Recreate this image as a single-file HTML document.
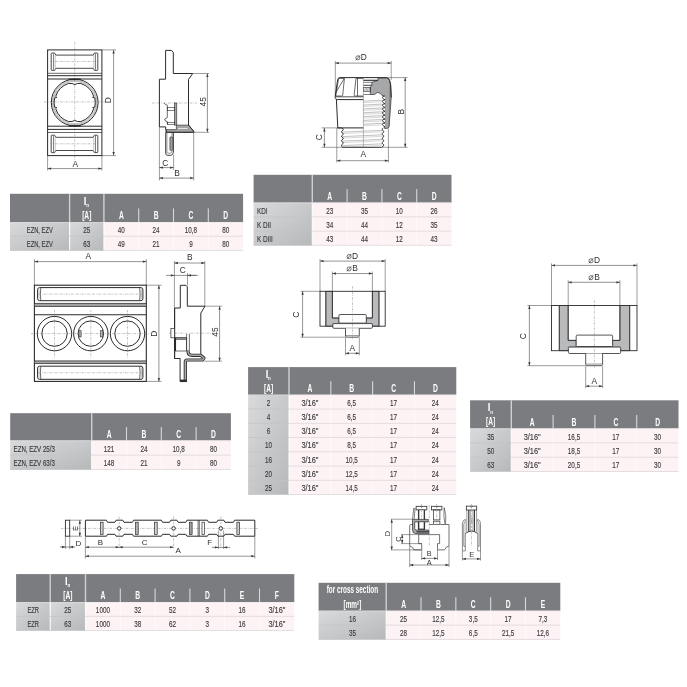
<!DOCTYPE html>
<html><head><meta charset="utf-8"><title>dims</title>
<style>html,body{margin:0;padding:0;background:#fff}svg{display:block;font-family:"Liberation Sans",sans-serif;will-change:transform}</style>
</head><body>
<svg width="687" height="687" viewBox="0 0 687 687">
<defs>
<linearGradient id="gg" x1="0" x2="1" y1="0" y2="1"><stop offset="0" stop-color="#d9dadc"/><stop offset="1" stop-color="#b7b8ba"/></linearGradient>
</defs>
<rect width="687" height="687" fill="#fff"/>

<rect x="10" y="193.8" width="233.10" height="28.20" fill="#7b7c7f"/>
<rect x="103.9" y="222.0" width="139.20" height="28.40" fill="#fdf3f5"/>
<rect x="10" y="222.0" width="59.60" height="28.40" fill="url(#gg)"/>
<rect x="69.6" y="222.0" width="34.30" height="28.40" fill="url(#gg)"/>
<rect x="68.90" y="193.8" width="1.4" height="28.20" fill="#cfd0d2"/>
<rect x="69.00" y="222.0" width="1.2" height="28.40" fill="#fff" opacity="0.85"/>
<rect x="103.20" y="193.8" width="1.4" height="28.20" fill="#cfd0d2"/>
<rect x="103.30" y="222.0" width="1.2" height="28.40" fill="#fff" opacity="0.85"/>
<rect x="138.15" y="208.40" width="1.1" height="13.6" fill="#d6d7d9"/>
<rect x="138.30" y="222.00" width="0.8" height="28.40" fill="#fff" opacity="0.7"/>
<rect x="172.95" y="208.40" width="1.1" height="13.6" fill="#d6d7d9"/>
<rect x="173.10" y="222.00" width="0.8" height="28.40" fill="#fff" opacity="0.7"/>
<rect x="207.75" y="208.40" width="1.1" height="13.6" fill="#d6d7d9"/>
<rect x="207.90" y="222.00" width="0.8" height="28.40" fill="#fff" opacity="0.7"/>
<rect x="10" y="222.00" width="93.90" height="0.6" fill="#dcdddf"/>
<rect x="103.9" y="222.00" width="139.20" height="0.6" fill="#efe9eb"/>
<rect x="10" y="235.80" width="93.90" height="0.8" fill="#c3c4c6" opacity="0.9"/>
<rect x="103.9" y="235.75" width="139.20" height="0.9" fill="#e0dbde"/>
<rect x="10" y="250.00" width="93.90" height="0.8" fill="#c3c4c6" opacity="0.9"/>
<rect x="103.9" y="249.95" width="139.20" height="0.9" fill="#e0dbde"/>
<text transform="translate(85.15,204.80) scale(0.95,1)" text-anchor="middle" fill="#fff" font-size="10" font-weight="bold" >I</text>
<text transform="translate(87.65,207.20) scale(0.8,1)" text-anchor="middle" fill="#fff" font-size="5.6" font-weight="bold" >n</text>
<text transform="translate(86.75,218.80) scale(0.66,1)" text-anchor="middle" fill="#fff" font-size="10" font-weight="bold" >[A]</text>
<text transform="translate(121.30,219.00) scale(0.66,1)" text-anchor="middle" fill="#fff" font-size="10.2" font-weight="bold" >A</text>
<text transform="translate(156.10,219.00) scale(0.66,1)" text-anchor="middle" fill="#fff" font-size="10.2" font-weight="bold" >B</text>
<text transform="translate(190.90,219.00) scale(0.66,1)" text-anchor="middle" fill="#fff" font-size="10.2" font-weight="bold" >C</text>
<text transform="translate(225.70,219.00) scale(0.66,1)" text-anchor="middle" fill="#fff" font-size="10.2" font-weight="bold" >D</text>
<text transform="translate(39.80,232.80) scale(0.6,1)" text-anchor="middle" fill="#3b3b3d" font-size="9.6" stroke="#3b3b3d" stroke-width="0.16" >EZN, EZV</text>
<text transform="translate(86.75,232.80) scale(0.66,1)" text-anchor="middle" fill="#3b3b3d" font-size="9.6" stroke="#3b3b3d" stroke-width="0.16" >25</text>
<text transform="translate(121.30,232.80) scale(0.66,1)" text-anchor="middle" fill="#3b3b3d" font-size="9.6" stroke="#3b3b3d" stroke-width="0.16" >40</text>
<text transform="translate(156.10,232.80) scale(0.66,1)" text-anchor="middle" fill="#3b3b3d" font-size="9.6" stroke="#3b3b3d" stroke-width="0.16" >24</text>
<text transform="translate(190.90,232.80) scale(0.66,1)" text-anchor="middle" fill="#3b3b3d" font-size="9.6" stroke="#3b3b3d" stroke-width="0.16" >10,8</text>
<text transform="translate(225.70,232.80) scale(0.66,1)" text-anchor="middle" fill="#3b3b3d" font-size="9.6" stroke="#3b3b3d" stroke-width="0.16" >80</text>
<text transform="translate(39.80,247.00) scale(0.6,1)" text-anchor="middle" fill="#3b3b3d" font-size="9.6" stroke="#3b3b3d" stroke-width="0.16" >EZN, EZV</text>
<text transform="translate(86.75,247.00) scale(0.66,1)" text-anchor="middle" fill="#3b3b3d" font-size="9.6" stroke="#3b3b3d" stroke-width="0.16" >63</text>
<text transform="translate(121.30,247.00) scale(0.66,1)" text-anchor="middle" fill="#3b3b3d" font-size="9.6" stroke="#3b3b3d" stroke-width="0.16" >49</text>
<text transform="translate(156.10,247.00) scale(0.66,1)" text-anchor="middle" fill="#3b3b3d" font-size="9.6" stroke="#3b3b3d" stroke-width="0.16" >21</text>
<text transform="translate(190.90,247.00) scale(0.66,1)" text-anchor="middle" fill="#3b3b3d" font-size="9.6" stroke="#3b3b3d" stroke-width="0.16" >9</text>
<text transform="translate(225.70,247.00) scale(0.66,1)" text-anchor="middle" fill="#3b3b3d" font-size="9.6" stroke="#3b3b3d" stroke-width="0.16" >80</text>
<rect x="253.6" y="174.8" width="197.90" height="27.90" fill="#7b7c7f"/>
<rect x="312.3" y="202.7" width="139.20" height="42.60" fill="#fdf3f5"/>
<rect x="253.6" y="202.7" width="58.70" height="42.60" fill="url(#gg)"/>
<rect x="311.60" y="174.8" width="1.4" height="27.90" fill="#cfd0d2"/>
<rect x="311.70" y="202.7" width="1.2" height="42.60" fill="#fff" opacity="0.85"/>
<rect x="346.55" y="189.10" width="1.1" height="13.6" fill="#d6d7d9"/>
<rect x="346.70" y="202.70" width="0.8" height="42.60" fill="#fff" opacity="0.7"/>
<rect x="381.35" y="189.10" width="1.1" height="13.6" fill="#d6d7d9"/>
<rect x="381.50" y="202.70" width="0.8" height="42.60" fill="#fff" opacity="0.7"/>
<rect x="416.15" y="189.10" width="1.1" height="13.6" fill="#d6d7d9"/>
<rect x="416.30" y="202.70" width="0.8" height="42.60" fill="#fff" opacity="0.7"/>
<rect x="253.6" y="202.70" width="58.70" height="0.6" fill="#dcdddf"/>
<rect x="312.3" y="202.70" width="139.20" height="0.6" fill="#efe9eb"/>
<rect x="253.6" y="216.50" width="58.70" height="0.8" fill="#c3c4c6" opacity="0.9"/>
<rect x="312.3" y="216.45" width="139.20" height="0.9" fill="#e0dbde"/>
<rect x="253.6" y="230.70" width="58.70" height="0.8" fill="#c3c4c6" opacity="0.9"/>
<rect x="312.3" y="230.65" width="139.20" height="0.9" fill="#e0dbde"/>
<rect x="253.6" y="244.90" width="58.70" height="0.8" fill="#c3c4c6" opacity="0.9"/>
<rect x="312.3" y="244.85" width="139.20" height="0.9" fill="#e0dbde"/>
<text transform="translate(329.70,199.70) scale(0.66,1)" text-anchor="middle" fill="#fff" font-size="10.2" font-weight="bold" >A</text>
<text transform="translate(364.50,199.70) scale(0.66,1)" text-anchor="middle" fill="#fff" font-size="10.2" font-weight="bold" >B</text>
<text transform="translate(399.30,199.70) scale(0.66,1)" text-anchor="middle" fill="#fff" font-size="10.2" font-weight="bold" >C</text>
<text transform="translate(434.10,199.70) scale(0.66,1)" text-anchor="middle" fill="#fff" font-size="10.2" font-weight="bold" >D</text>
<text transform="translate(257.00,213.50) scale(0.66,1)" text-anchor="start" fill="#3b3b3d" font-size="9.6" stroke="#3b3b3d" stroke-width="0.16" >KDI</text>
<text transform="translate(329.70,213.50) scale(0.66,1)" text-anchor="middle" fill="#3b3b3d" font-size="9.6" stroke="#3b3b3d" stroke-width="0.16" >23</text>
<text transform="translate(364.50,213.50) scale(0.66,1)" text-anchor="middle" fill="#3b3b3d" font-size="9.6" stroke="#3b3b3d" stroke-width="0.16" >35</text>
<text transform="translate(399.30,213.50) scale(0.66,1)" text-anchor="middle" fill="#3b3b3d" font-size="9.6" stroke="#3b3b3d" stroke-width="0.16" >10</text>
<text transform="translate(434.10,213.50) scale(0.66,1)" text-anchor="middle" fill="#3b3b3d" font-size="9.6" stroke="#3b3b3d" stroke-width="0.16" >26</text>
<text transform="translate(257.00,227.70) scale(0.66,1)" text-anchor="start" fill="#3b3b3d" font-size="9.6" stroke="#3b3b3d" stroke-width="0.16" >K DII</text>
<text transform="translate(329.70,227.70) scale(0.66,1)" text-anchor="middle" fill="#3b3b3d" font-size="9.6" stroke="#3b3b3d" stroke-width="0.16" >34</text>
<text transform="translate(364.50,227.70) scale(0.66,1)" text-anchor="middle" fill="#3b3b3d" font-size="9.6" stroke="#3b3b3d" stroke-width="0.16" >44</text>
<text transform="translate(399.30,227.70) scale(0.66,1)" text-anchor="middle" fill="#3b3b3d" font-size="9.6" stroke="#3b3b3d" stroke-width="0.16" >12</text>
<text transform="translate(434.10,227.70) scale(0.66,1)" text-anchor="middle" fill="#3b3b3d" font-size="9.6" stroke="#3b3b3d" stroke-width="0.16" >35</text>
<text transform="translate(257.00,241.90) scale(0.66,1)" text-anchor="start" fill="#3b3b3d" font-size="9.6" stroke="#3b3b3d" stroke-width="0.16" >K DIII</text>
<text transform="translate(329.70,241.90) scale(0.66,1)" text-anchor="middle" fill="#3b3b3d" font-size="9.6" stroke="#3b3b3d" stroke-width="0.16" >43</text>
<text transform="translate(364.50,241.90) scale(0.66,1)" text-anchor="middle" fill="#3b3b3d" font-size="9.6" stroke="#3b3b3d" stroke-width="0.16" >44</text>
<text transform="translate(399.30,241.90) scale(0.66,1)" text-anchor="middle" fill="#3b3b3d" font-size="9.6" stroke="#3b3b3d" stroke-width="0.16" >12</text>
<text transform="translate(434.10,241.90) scale(0.66,1)" text-anchor="middle" fill="#3b3b3d" font-size="9.6" stroke="#3b3b3d" stroke-width="0.16" >43</text>
<rect x="10.2" y="413.2" width="220.70" height="27.40" fill="#7b7c7f"/>
<rect x="91.7" y="440.6" width="139.20" height="29.00" fill="#fdf3f5"/>
<rect x="10.2" y="440.6" width="81.50" height="29.00" fill="url(#gg)"/>
<rect x="91.00" y="413.2" width="1.4" height="27.40" fill="#cfd0d2"/>
<rect x="91.10" y="440.6" width="1.2" height="29.00" fill="#fff" opacity="0.85"/>
<rect x="125.95" y="427.00" width="1.1" height="13.6" fill="#d6d7d9"/>
<rect x="126.10" y="440.60" width="0.8" height="29.00" fill="#fff" opacity="0.7"/>
<rect x="160.75" y="427.00" width="1.1" height="13.6" fill="#d6d7d9"/>
<rect x="160.90" y="440.60" width="0.8" height="29.00" fill="#fff" opacity="0.7"/>
<rect x="195.55" y="427.00" width="1.1" height="13.6" fill="#d6d7d9"/>
<rect x="195.70" y="440.60" width="0.8" height="29.00" fill="#fff" opacity="0.7"/>
<rect x="10.2" y="440.60" width="81.50" height="0.6" fill="#dcdddf"/>
<rect x="91.7" y="440.60" width="139.20" height="0.6" fill="#efe9eb"/>
<rect x="10.2" y="454.70" width="81.50" height="0.8" fill="#c3c4c6" opacity="0.9"/>
<rect x="91.7" y="454.65" width="139.20" height="0.9" fill="#e0dbde"/>
<rect x="10.2" y="469.20" width="81.50" height="0.8" fill="#c3c4c6" opacity="0.9"/>
<rect x="91.7" y="469.15" width="139.20" height="0.9" fill="#e0dbde"/>
<text transform="translate(109.10,437.60) scale(0.66,1)" text-anchor="middle" fill="#fff" font-size="10.2" font-weight="bold" >A</text>
<text transform="translate(143.90,437.60) scale(0.66,1)" text-anchor="middle" fill="#fff" font-size="10.2" font-weight="bold" >B</text>
<text transform="translate(178.70,437.60) scale(0.66,1)" text-anchor="middle" fill="#fff" font-size="10.2" font-weight="bold" >C</text>
<text transform="translate(213.50,437.60) scale(0.66,1)" text-anchor="middle" fill="#fff" font-size="10.2" font-weight="bold" >D</text>
<text transform="translate(13.60,451.70) scale(0.64,1)" text-anchor="start" fill="#3b3b3d" font-size="9.6" stroke="#3b3b3d" stroke-width="0.16" >EZN, EZV 25/3</text>
<text transform="translate(109.10,451.70) scale(0.66,1)" text-anchor="middle" fill="#3b3b3d" font-size="9.6" stroke="#3b3b3d" stroke-width="0.16" >121</text>
<text transform="translate(143.90,451.70) scale(0.66,1)" text-anchor="middle" fill="#3b3b3d" font-size="9.6" stroke="#3b3b3d" stroke-width="0.16" >24</text>
<text transform="translate(178.70,451.70) scale(0.66,1)" text-anchor="middle" fill="#3b3b3d" font-size="9.6" stroke="#3b3b3d" stroke-width="0.16" >10,8</text>
<text transform="translate(213.50,451.70) scale(0.66,1)" text-anchor="middle" fill="#3b3b3d" font-size="9.6" stroke="#3b3b3d" stroke-width="0.16" >80</text>
<text transform="translate(13.60,466.20) scale(0.64,1)" text-anchor="start" fill="#3b3b3d" font-size="9.6" stroke="#3b3b3d" stroke-width="0.16" >EZN, EZV 63/3</text>
<text transform="translate(109.10,466.20) scale(0.66,1)" text-anchor="middle" fill="#3b3b3d" font-size="9.6" stroke="#3b3b3d" stroke-width="0.16" >148</text>
<text transform="translate(143.90,466.20) scale(0.66,1)" text-anchor="middle" fill="#3b3b3d" font-size="9.6" stroke="#3b3b3d" stroke-width="0.16" >21</text>
<text transform="translate(178.70,466.20) scale(0.66,1)" text-anchor="middle" fill="#3b3b3d" font-size="9.6" stroke="#3b3b3d" stroke-width="0.16" >9</text>
<text transform="translate(213.50,466.20) scale(0.66,1)" text-anchor="middle" fill="#3b3b3d" font-size="9.6" stroke="#3b3b3d" stroke-width="0.16" >80</text>
<rect x="248.1" y="367.1" width="208.18" height="27.70" fill="#7b7c7f"/>
<rect x="289.0" y="394.8" width="167.28" height="99.75" fill="#fdf3f5"/>
<rect x="248.1" y="394.8" width="40.90" height="99.75" fill="url(#gg)"/>
<rect x="288.30" y="367.1" width="1.4" height="27.70" fill="#cfd0d2"/>
<rect x="288.40" y="394.8" width="1.2" height="99.75" fill="#fff" opacity="0.85"/>
<rect x="330.27" y="381.20" width="1.1" height="13.6" fill="#d6d7d9"/>
<rect x="330.42" y="394.80" width="0.8" height="99.75" fill="#fff" opacity="0.7"/>
<rect x="372.09" y="381.20" width="1.1" height="13.6" fill="#d6d7d9"/>
<rect x="372.24" y="394.80" width="0.8" height="99.75" fill="#fff" opacity="0.7"/>
<rect x="413.91" y="381.20" width="1.1" height="13.6" fill="#d6d7d9"/>
<rect x="414.06" y="394.80" width="0.8" height="99.75" fill="#fff" opacity="0.7"/>
<rect x="248.1" y="394.80" width="40.90" height="0.6" fill="#dcdddf"/>
<rect x="289.0" y="394.80" width="167.28" height="0.6" fill="#efe9eb"/>
<rect x="248.1" y="408.65" width="40.90" height="0.8" fill="#c3c4c6" opacity="0.9"/>
<rect x="289.0" y="408.60" width="167.28" height="0.9" fill="#e0dbde"/>
<rect x="248.1" y="422.90" width="40.90" height="0.8" fill="#c3c4c6" opacity="0.9"/>
<rect x="289.0" y="422.85" width="167.28" height="0.9" fill="#e0dbde"/>
<rect x="248.1" y="437.15" width="40.90" height="0.8" fill="#c3c4c6" opacity="0.9"/>
<rect x="289.0" y="437.10" width="167.28" height="0.9" fill="#e0dbde"/>
<rect x="248.1" y="451.40" width="40.90" height="0.8" fill="#c3c4c6" opacity="0.9"/>
<rect x="289.0" y="451.35" width="167.28" height="0.9" fill="#e0dbde"/>
<rect x="248.1" y="465.65" width="40.90" height="0.8" fill="#c3c4c6" opacity="0.9"/>
<rect x="289.0" y="465.60" width="167.28" height="0.9" fill="#e0dbde"/>
<rect x="248.1" y="479.90" width="40.90" height="0.8" fill="#c3c4c6" opacity="0.9"/>
<rect x="289.0" y="479.85" width="167.28" height="0.9" fill="#e0dbde"/>
<rect x="248.1" y="494.15" width="40.90" height="0.8" fill="#c3c4c6" opacity="0.9"/>
<rect x="289.0" y="494.10" width="167.28" height="0.9" fill="#e0dbde"/>
<text transform="translate(266.95,377.60) scale(0.95,1)" text-anchor="middle" fill="#fff" font-size="10" font-weight="bold" >I</text>
<text transform="translate(269.45,380.00) scale(0.8,1)" text-anchor="middle" fill="#fff" font-size="5.6" font-weight="bold" >n</text>
<text transform="translate(268.55,391.60) scale(0.66,1)" text-anchor="middle" fill="#fff" font-size="10" font-weight="bold" >[A]</text>
<text transform="translate(309.91,391.80) scale(0.66,1)" text-anchor="middle" fill="#fff" font-size="10.2" font-weight="bold" >A</text>
<text transform="translate(351.73,391.80) scale(0.66,1)" text-anchor="middle" fill="#fff" font-size="10.2" font-weight="bold" >B</text>
<text transform="translate(393.55,391.80) scale(0.66,1)" text-anchor="middle" fill="#fff" font-size="10.2" font-weight="bold" >C</text>
<text transform="translate(435.37,391.80) scale(0.66,1)" text-anchor="middle" fill="#fff" font-size="10.2" font-weight="bold" >D</text>
<text transform="translate(268.55,405.65) scale(0.66,1)" text-anchor="middle" fill="#3b3b3d" font-size="9.6" stroke="#3b3b3d" stroke-width="0.16" >2</text>
<text transform="translate(309.91,405.65) scale(0.77,1)" text-anchor="middle" fill="#3b3b3d" font-size="9.6" stroke="#3b3b3d" stroke-width="0.16" >3/16"</text>
<text transform="translate(351.73,405.65) scale(0.66,1)" text-anchor="middle" fill="#3b3b3d" font-size="9.6" stroke="#3b3b3d" stroke-width="0.16" >6,5</text>
<text transform="translate(393.55,405.65) scale(0.66,1)" text-anchor="middle" fill="#3b3b3d" font-size="9.6" stroke="#3b3b3d" stroke-width="0.16" >17</text>
<text transform="translate(435.37,405.65) scale(0.66,1)" text-anchor="middle" fill="#3b3b3d" font-size="9.6" stroke="#3b3b3d" stroke-width="0.16" >24</text>
<text transform="translate(268.55,419.90) scale(0.66,1)" text-anchor="middle" fill="#3b3b3d" font-size="9.6" stroke="#3b3b3d" stroke-width="0.16" >4</text>
<text transform="translate(309.91,419.90) scale(0.77,1)" text-anchor="middle" fill="#3b3b3d" font-size="9.6" stroke="#3b3b3d" stroke-width="0.16" >3/16"</text>
<text transform="translate(351.73,419.90) scale(0.66,1)" text-anchor="middle" fill="#3b3b3d" font-size="9.6" stroke="#3b3b3d" stroke-width="0.16" >6,5</text>
<text transform="translate(393.55,419.90) scale(0.66,1)" text-anchor="middle" fill="#3b3b3d" font-size="9.6" stroke="#3b3b3d" stroke-width="0.16" >17</text>
<text transform="translate(435.37,419.90) scale(0.66,1)" text-anchor="middle" fill="#3b3b3d" font-size="9.6" stroke="#3b3b3d" stroke-width="0.16" >24</text>
<text transform="translate(268.55,434.15) scale(0.66,1)" text-anchor="middle" fill="#3b3b3d" font-size="9.6" stroke="#3b3b3d" stroke-width="0.16" >6</text>
<text transform="translate(309.91,434.15) scale(0.77,1)" text-anchor="middle" fill="#3b3b3d" font-size="9.6" stroke="#3b3b3d" stroke-width="0.16" >3/16"</text>
<text transform="translate(351.73,434.15) scale(0.66,1)" text-anchor="middle" fill="#3b3b3d" font-size="9.6" stroke="#3b3b3d" stroke-width="0.16" >6,5</text>
<text transform="translate(393.55,434.15) scale(0.66,1)" text-anchor="middle" fill="#3b3b3d" font-size="9.6" stroke="#3b3b3d" stroke-width="0.16" >17</text>
<text transform="translate(435.37,434.15) scale(0.66,1)" text-anchor="middle" fill="#3b3b3d" font-size="9.6" stroke="#3b3b3d" stroke-width="0.16" >24</text>
<text transform="translate(268.55,448.40) scale(0.66,1)" text-anchor="middle" fill="#3b3b3d" font-size="9.6" stroke="#3b3b3d" stroke-width="0.16" >10</text>
<text transform="translate(309.91,448.40) scale(0.77,1)" text-anchor="middle" fill="#3b3b3d" font-size="9.6" stroke="#3b3b3d" stroke-width="0.16" >3/16"</text>
<text transform="translate(351.73,448.40) scale(0.66,1)" text-anchor="middle" fill="#3b3b3d" font-size="9.6" stroke="#3b3b3d" stroke-width="0.16" >8,5</text>
<text transform="translate(393.55,448.40) scale(0.66,1)" text-anchor="middle" fill="#3b3b3d" font-size="9.6" stroke="#3b3b3d" stroke-width="0.16" >17</text>
<text transform="translate(435.37,448.40) scale(0.66,1)" text-anchor="middle" fill="#3b3b3d" font-size="9.6" stroke="#3b3b3d" stroke-width="0.16" >24</text>
<text transform="translate(268.55,462.65) scale(0.66,1)" text-anchor="middle" fill="#3b3b3d" font-size="9.6" stroke="#3b3b3d" stroke-width="0.16" >16</text>
<text transform="translate(309.91,462.65) scale(0.77,1)" text-anchor="middle" fill="#3b3b3d" font-size="9.6" stroke="#3b3b3d" stroke-width="0.16" >3/16"</text>
<text transform="translate(351.73,462.65) scale(0.66,1)" text-anchor="middle" fill="#3b3b3d" font-size="9.6" stroke="#3b3b3d" stroke-width="0.16" >10,5</text>
<text transform="translate(393.55,462.65) scale(0.66,1)" text-anchor="middle" fill="#3b3b3d" font-size="9.6" stroke="#3b3b3d" stroke-width="0.16" >17</text>
<text transform="translate(435.37,462.65) scale(0.66,1)" text-anchor="middle" fill="#3b3b3d" font-size="9.6" stroke="#3b3b3d" stroke-width="0.16" >24</text>
<text transform="translate(268.55,476.90) scale(0.66,1)" text-anchor="middle" fill="#3b3b3d" font-size="9.6" stroke="#3b3b3d" stroke-width="0.16" >20</text>
<text transform="translate(309.91,476.90) scale(0.77,1)" text-anchor="middle" fill="#3b3b3d" font-size="9.6" stroke="#3b3b3d" stroke-width="0.16" >3/16"</text>
<text transform="translate(351.73,476.90) scale(0.66,1)" text-anchor="middle" fill="#3b3b3d" font-size="9.6" stroke="#3b3b3d" stroke-width="0.16" >12,5</text>
<text transform="translate(393.55,476.90) scale(0.66,1)" text-anchor="middle" fill="#3b3b3d" font-size="9.6" stroke="#3b3b3d" stroke-width="0.16" >17</text>
<text transform="translate(435.37,476.90) scale(0.66,1)" text-anchor="middle" fill="#3b3b3d" font-size="9.6" stroke="#3b3b3d" stroke-width="0.16" >24</text>
<text transform="translate(268.55,491.15) scale(0.66,1)" text-anchor="middle" fill="#3b3b3d" font-size="9.6" stroke="#3b3b3d" stroke-width="0.16" >25</text>
<text transform="translate(309.91,491.15) scale(0.77,1)" text-anchor="middle" fill="#3b3b3d" font-size="9.6" stroke="#3b3b3d" stroke-width="0.16" >3/16"</text>
<text transform="translate(351.73,491.15) scale(0.66,1)" text-anchor="middle" fill="#3b3b3d" font-size="9.6" stroke="#3b3b3d" stroke-width="0.16" >14,5</text>
<text transform="translate(393.55,491.15) scale(0.66,1)" text-anchor="middle" fill="#3b3b3d" font-size="9.6" stroke="#3b3b3d" stroke-width="0.16" >17</text>
<text transform="translate(435.37,491.15) scale(0.66,1)" text-anchor="middle" fill="#3b3b3d" font-size="9.6" stroke="#3b3b3d" stroke-width="0.16" >24</text>
<rect x="470.1" y="400.3" width="208.40" height="28.30" fill="#7b7c7f"/>
<rect x="511.3" y="428.6" width="167.20" height="42.90" fill="#fdf3f5"/>
<rect x="470.1" y="428.6" width="41.20" height="42.90" fill="url(#gg)"/>
<rect x="510.60" y="400.3" width="1.4" height="28.30" fill="#cfd0d2"/>
<rect x="510.70" y="428.6" width="1.2" height="42.90" fill="#fff" opacity="0.85"/>
<rect x="552.55" y="415.00" width="1.1" height="13.6" fill="#d6d7d9"/>
<rect x="552.70" y="428.60" width="0.8" height="42.90" fill="#fff" opacity="0.7"/>
<rect x="594.35" y="415.00" width="1.1" height="13.6" fill="#d6d7d9"/>
<rect x="594.50" y="428.60" width="0.8" height="42.90" fill="#fff" opacity="0.7"/>
<rect x="636.15" y="415.00" width="1.1" height="13.6" fill="#d6d7d9"/>
<rect x="636.30" y="428.60" width="0.8" height="42.90" fill="#fff" opacity="0.7"/>
<rect x="470.1" y="428.60" width="41.20" height="0.6" fill="#dcdddf"/>
<rect x="511.3" y="428.60" width="167.20" height="0.6" fill="#efe9eb"/>
<rect x="470.1" y="442.50" width="41.20" height="0.8" fill="#c3c4c6" opacity="0.9"/>
<rect x="511.3" y="442.45" width="167.20" height="0.9" fill="#e0dbde"/>
<rect x="470.1" y="456.80" width="41.20" height="0.8" fill="#c3c4c6" opacity="0.9"/>
<rect x="511.3" y="456.75" width="167.20" height="0.9" fill="#e0dbde"/>
<rect x="470.1" y="471.10" width="41.20" height="0.8" fill="#c3c4c6" opacity="0.9"/>
<rect x="511.3" y="471.05" width="167.20" height="0.9" fill="#e0dbde"/>
<text transform="translate(489.10,411.40) scale(0.95,1)" text-anchor="middle" fill="#fff" font-size="10" font-weight="bold" >I</text>
<text transform="translate(491.60,413.80) scale(0.8,1)" text-anchor="middle" fill="#fff" font-size="5.6" font-weight="bold" >n</text>
<text transform="translate(490.70,425.40) scale(0.66,1)" text-anchor="middle" fill="#fff" font-size="10" font-weight="bold" >[A]</text>
<text transform="translate(532.20,425.60) scale(0.66,1)" text-anchor="middle" fill="#fff" font-size="10.2" font-weight="bold" >A</text>
<text transform="translate(574.00,425.60) scale(0.66,1)" text-anchor="middle" fill="#fff" font-size="10.2" font-weight="bold" >B</text>
<text transform="translate(615.80,425.60) scale(0.66,1)" text-anchor="middle" fill="#fff" font-size="10.2" font-weight="bold" >C</text>
<text transform="translate(657.60,425.60) scale(0.66,1)" text-anchor="middle" fill="#fff" font-size="10.2" font-weight="bold" >D</text>
<text transform="translate(490.70,439.50) scale(0.66,1)" text-anchor="middle" fill="#3b3b3d" font-size="9.6" stroke="#3b3b3d" stroke-width="0.16" >35</text>
<text transform="translate(532.20,439.50) scale(0.77,1)" text-anchor="middle" fill="#3b3b3d" font-size="9.6" stroke="#3b3b3d" stroke-width="0.16" >3/16"</text>
<text transform="translate(574.00,439.50) scale(0.66,1)" text-anchor="middle" fill="#3b3b3d" font-size="9.6" stroke="#3b3b3d" stroke-width="0.16" >16,5</text>
<text transform="translate(615.80,439.50) scale(0.66,1)" text-anchor="middle" fill="#3b3b3d" font-size="9.6" stroke="#3b3b3d" stroke-width="0.16" >17</text>
<text transform="translate(657.60,439.50) scale(0.66,1)" text-anchor="middle" fill="#3b3b3d" font-size="9.6" stroke="#3b3b3d" stroke-width="0.16" >30</text>
<text transform="translate(490.70,453.80) scale(0.66,1)" text-anchor="middle" fill="#3b3b3d" font-size="9.6" stroke="#3b3b3d" stroke-width="0.16" >50</text>
<text transform="translate(532.20,453.80) scale(0.77,1)" text-anchor="middle" fill="#3b3b3d" font-size="9.6" stroke="#3b3b3d" stroke-width="0.16" >3/16"</text>
<text transform="translate(574.00,453.80) scale(0.66,1)" text-anchor="middle" fill="#3b3b3d" font-size="9.6" stroke="#3b3b3d" stroke-width="0.16" >18,5</text>
<text transform="translate(615.80,453.80) scale(0.66,1)" text-anchor="middle" fill="#3b3b3d" font-size="9.6" stroke="#3b3b3d" stroke-width="0.16" >17</text>
<text transform="translate(657.60,453.80) scale(0.66,1)" text-anchor="middle" fill="#3b3b3d" font-size="9.6" stroke="#3b3b3d" stroke-width="0.16" >30</text>
<text transform="translate(490.70,468.10) scale(0.66,1)" text-anchor="middle" fill="#3b3b3d" font-size="9.6" stroke="#3b3b3d" stroke-width="0.16" >63</text>
<text transform="translate(532.20,468.10) scale(0.77,1)" text-anchor="middle" fill="#3b3b3d" font-size="9.6" stroke="#3b3b3d" stroke-width="0.16" >3/16"</text>
<text transform="translate(574.00,468.10) scale(0.66,1)" text-anchor="middle" fill="#3b3b3d" font-size="9.6" stroke="#3b3b3d" stroke-width="0.16" >20,5</text>
<text transform="translate(615.80,468.10) scale(0.66,1)" text-anchor="middle" fill="#3b3b3d" font-size="9.6" stroke="#3b3b3d" stroke-width="0.16" >17</text>
<text transform="translate(657.60,468.10) scale(0.66,1)" text-anchor="middle" fill="#3b3b3d" font-size="9.6" stroke="#3b3b3d" stroke-width="0.16" >30</text>
<rect x="16.1" y="574.1" width="278.20" height="28.00" fill="#7b7c7f"/>
<rect x="85.5" y="602.1" width="208.80" height="28.40" fill="#fdf3f5"/>
<rect x="16.1" y="602.1" width="34.10" height="28.40" fill="url(#gg)"/>
<rect x="50.2" y="602.1" width="35.30" height="28.40" fill="url(#gg)"/>
<rect x="49.50" y="574.1" width="1.4" height="28.00" fill="#cfd0d2"/>
<rect x="49.60" y="602.1" width="1.2" height="28.40" fill="#fff" opacity="0.85"/>
<rect x="84.80" y="574.1" width="1.4" height="28.00" fill="#cfd0d2"/>
<rect x="84.90" y="602.1" width="1.2" height="28.40" fill="#fff" opacity="0.85"/>
<rect x="119.75" y="588.50" width="1.1" height="13.6" fill="#d6d7d9"/>
<rect x="119.90" y="602.10" width="0.8" height="28.40" fill="#fff" opacity="0.7"/>
<rect x="154.55" y="588.50" width="1.1" height="13.6" fill="#d6d7d9"/>
<rect x="154.70" y="602.10" width="0.8" height="28.40" fill="#fff" opacity="0.7"/>
<rect x="189.35" y="588.50" width="1.1" height="13.6" fill="#d6d7d9"/>
<rect x="189.50" y="602.10" width="0.8" height="28.40" fill="#fff" opacity="0.7"/>
<rect x="224.15" y="588.50" width="1.1" height="13.6" fill="#d6d7d9"/>
<rect x="224.30" y="602.10" width="0.8" height="28.40" fill="#fff" opacity="0.7"/>
<rect x="258.95" y="588.50" width="1.1" height="13.6" fill="#d6d7d9"/>
<rect x="259.10" y="602.10" width="0.8" height="28.40" fill="#fff" opacity="0.7"/>
<rect x="16.1" y="602.10" width="69.40" height="0.6" fill="#dcdddf"/>
<rect x="85.5" y="602.10" width="208.80" height="0.6" fill="#efe9eb"/>
<rect x="16.1" y="615.90" width="69.40" height="0.8" fill="#c3c4c6" opacity="0.9"/>
<rect x="85.5" y="615.85" width="208.80" height="0.9" fill="#e0dbde"/>
<rect x="16.1" y="630.10" width="69.40" height="0.8" fill="#c3c4c6" opacity="0.9"/>
<rect x="85.5" y="630.05" width="208.80" height="0.9" fill="#e0dbde"/>
<text transform="translate(66.25,584.90) scale(0.95,1)" text-anchor="middle" fill="#fff" font-size="10" font-weight="bold" >I</text>
<text transform="translate(68.75,587.30) scale(0.8,1)" text-anchor="middle" fill="#fff" font-size="5.6" font-weight="bold" >n</text>
<text transform="translate(67.85,598.90) scale(0.66,1)" text-anchor="middle" fill="#fff" font-size="10" font-weight="bold" >[A]</text>
<text transform="translate(102.90,599.10) scale(0.66,1)" text-anchor="middle" fill="#fff" font-size="10.2" font-weight="bold" >A</text>
<text transform="translate(137.70,599.10) scale(0.66,1)" text-anchor="middle" fill="#fff" font-size="10.2" font-weight="bold" >B</text>
<text transform="translate(172.50,599.10) scale(0.66,1)" text-anchor="middle" fill="#fff" font-size="10.2" font-weight="bold" >C</text>
<text transform="translate(207.30,599.10) scale(0.66,1)" text-anchor="middle" fill="#fff" font-size="10.2" font-weight="bold" >D</text>
<text transform="translate(242.10,599.10) scale(0.66,1)" text-anchor="middle" fill="#fff" font-size="10.2" font-weight="bold" >E</text>
<text transform="translate(276.90,599.10) scale(0.66,1)" text-anchor="middle" fill="#fff" font-size="10.2" font-weight="bold" >F</text>
<text transform="translate(33.15,612.90) scale(0.6,1)" text-anchor="middle" fill="#3b3b3d" font-size="9.6" stroke="#3b3b3d" stroke-width="0.16" >EZR</text>
<text transform="translate(67.85,612.90) scale(0.66,1)" text-anchor="middle" fill="#3b3b3d" font-size="9.6" stroke="#3b3b3d" stroke-width="0.16" >25</text>
<text transform="translate(102.90,612.90) scale(0.66,1)" text-anchor="middle" fill="#3b3b3d" font-size="9.6" stroke="#3b3b3d" stroke-width="0.16" >1000</text>
<text transform="translate(137.70,612.90) scale(0.66,1)" text-anchor="middle" fill="#3b3b3d" font-size="9.6" stroke="#3b3b3d" stroke-width="0.16" >32</text>
<text transform="translate(172.50,612.90) scale(0.66,1)" text-anchor="middle" fill="#3b3b3d" font-size="9.6" stroke="#3b3b3d" stroke-width="0.16" >52</text>
<text transform="translate(207.30,612.90) scale(0.66,1)" text-anchor="middle" fill="#3b3b3d" font-size="9.6" stroke="#3b3b3d" stroke-width="0.16" >3</text>
<text transform="translate(242.10,612.90) scale(0.66,1)" text-anchor="middle" fill="#3b3b3d" font-size="9.6" stroke="#3b3b3d" stroke-width="0.16" >16</text>
<text transform="translate(276.90,612.90) scale(0.77,1)" text-anchor="middle" fill="#3b3b3d" font-size="9.6" stroke="#3b3b3d" stroke-width="0.16" >3/16"</text>
<text transform="translate(33.15,627.10) scale(0.6,1)" text-anchor="middle" fill="#3b3b3d" font-size="9.6" stroke="#3b3b3d" stroke-width="0.16" >EZR</text>
<text transform="translate(67.85,627.10) scale(0.66,1)" text-anchor="middle" fill="#3b3b3d" font-size="9.6" stroke="#3b3b3d" stroke-width="0.16" >63</text>
<text transform="translate(102.90,627.10) scale(0.66,1)" text-anchor="middle" fill="#3b3b3d" font-size="9.6" stroke="#3b3b3d" stroke-width="0.16" >1000</text>
<text transform="translate(137.70,627.10) scale(0.66,1)" text-anchor="middle" fill="#3b3b3d" font-size="9.6" stroke="#3b3b3d" stroke-width="0.16" >38</text>
<text transform="translate(172.50,627.10) scale(0.66,1)" text-anchor="middle" fill="#3b3b3d" font-size="9.6" stroke="#3b3b3d" stroke-width="0.16" >62</text>
<text transform="translate(207.30,627.10) scale(0.66,1)" text-anchor="middle" fill="#3b3b3d" font-size="9.6" stroke="#3b3b3d" stroke-width="0.16" >3</text>
<text transform="translate(242.10,627.10) scale(0.66,1)" text-anchor="middle" fill="#3b3b3d" font-size="9.6" stroke="#3b3b3d" stroke-width="0.16" >16</text>
<text transform="translate(276.90,627.10) scale(0.77,1)" text-anchor="middle" fill="#3b3b3d" font-size="9.6" stroke="#3b3b3d" stroke-width="0.16" >3/16"</text>
<rect x="318.6" y="582.8" width="241.70" height="28.00" fill="#7b7c7f"/>
<rect x="386.2" y="610.8" width="174.10" height="28.60" fill="#fdf3f5"/>
<rect x="318.6" y="610.8" width="67.60" height="28.60" fill="url(#gg)"/>
<rect x="385.50" y="582.8" width="1.4" height="28.00" fill="#cfd0d2"/>
<rect x="385.60" y="610.8" width="1.2" height="28.60" fill="#fff" opacity="0.85"/>
<rect x="420.47" y="597.20" width="1.1" height="13.6" fill="#d6d7d9"/>
<rect x="420.62" y="610.80" width="0.8" height="28.60" fill="#fff" opacity="0.7"/>
<rect x="455.29" y="597.20" width="1.1" height="13.6" fill="#d6d7d9"/>
<rect x="455.44" y="610.80" width="0.8" height="28.60" fill="#fff" opacity="0.7"/>
<rect x="490.11" y="597.20" width="1.1" height="13.6" fill="#d6d7d9"/>
<rect x="490.26" y="610.80" width="0.8" height="28.60" fill="#fff" opacity="0.7"/>
<rect x="524.93" y="597.20" width="1.1" height="13.6" fill="#d6d7d9"/>
<rect x="525.08" y="610.80" width="0.8" height="28.60" fill="#fff" opacity="0.7"/>
<rect x="318.6" y="610.80" width="67.60" height="0.6" fill="#dcdddf"/>
<rect x="386.2" y="610.80" width="174.10" height="0.6" fill="#efe9eb"/>
<rect x="318.6" y="624.70" width="67.60" height="0.8" fill="#c3c4c6" opacity="0.9"/>
<rect x="386.2" y="624.65" width="174.10" height="0.9" fill="#e0dbde"/>
<rect x="318.6" y="639.00" width="67.60" height="0.8" fill="#c3c4c6" opacity="0.9"/>
<rect x="386.2" y="638.95" width="174.10" height="0.9" fill="#e0dbde"/>
<text transform="translate(352.40,593.40) scale(0.64,1)" text-anchor="middle" fill="#fff" font-size="10" font-weight="bold" >for cross section</text>
<text transform="translate(352.40,607.60) scale(0.64,1)" text-anchor="middle" fill="#fff" font-size="10" font-weight="bold" >[mm²]</text>
<text transform="translate(403.61,607.80) scale(0.66,1)" text-anchor="middle" fill="#fff" font-size="10.2" font-weight="bold" >A</text>
<text transform="translate(438.43,607.80) scale(0.66,1)" text-anchor="middle" fill="#fff" font-size="10.2" font-weight="bold" >B</text>
<text transform="translate(473.25,607.80) scale(0.66,1)" text-anchor="middle" fill="#fff" font-size="10.2" font-weight="bold" >C</text>
<text transform="translate(508.07,607.80) scale(0.66,1)" text-anchor="middle" fill="#fff" font-size="10.2" font-weight="bold" >D</text>
<text transform="translate(542.89,607.80) scale(0.66,1)" text-anchor="middle" fill="#fff" font-size="10.2" font-weight="bold" >E</text>
<text transform="translate(352.40,621.70) scale(0.66,1)" text-anchor="middle" fill="#3b3b3d" font-size="9.6" stroke="#3b3b3d" stroke-width="0.16" >16</text>
<text transform="translate(403.61,621.70) scale(0.66,1)" text-anchor="middle" fill="#3b3b3d" font-size="9.6" stroke="#3b3b3d" stroke-width="0.16" >25</text>
<text transform="translate(438.43,621.70) scale(0.66,1)" text-anchor="middle" fill="#3b3b3d" font-size="9.6" stroke="#3b3b3d" stroke-width="0.16" >12,5</text>
<text transform="translate(473.25,621.70) scale(0.66,1)" text-anchor="middle" fill="#3b3b3d" font-size="9.6" stroke="#3b3b3d" stroke-width="0.16" >3,5</text>
<text transform="translate(508.07,621.70) scale(0.66,1)" text-anchor="middle" fill="#3b3b3d" font-size="9.6" stroke="#3b3b3d" stroke-width="0.16" >17</text>
<text transform="translate(542.89,621.70) scale(0.66,1)" text-anchor="middle" fill="#3b3b3d" font-size="9.6" stroke="#3b3b3d" stroke-width="0.16" >7,3</text>
<text transform="translate(352.40,636.00) scale(0.66,1)" text-anchor="middle" fill="#3b3b3d" font-size="9.6" stroke="#3b3b3d" stroke-width="0.16" >35</text>
<text transform="translate(403.61,636.00) scale(0.66,1)" text-anchor="middle" fill="#3b3b3d" font-size="9.6" stroke="#3b3b3d" stroke-width="0.16" >28</text>
<text transform="translate(438.43,636.00) scale(0.66,1)" text-anchor="middle" fill="#3b3b3d" font-size="9.6" stroke="#3b3b3d" stroke-width="0.16" >12,5</text>
<text transform="translate(473.25,636.00) scale(0.66,1)" text-anchor="middle" fill="#3b3b3d" font-size="9.6" stroke="#3b3b3d" stroke-width="0.16" >6,5</text>
<text transform="translate(508.07,636.00) scale(0.66,1)" text-anchor="middle" fill="#3b3b3d" font-size="9.6" stroke="#3b3b3d" stroke-width="0.16" >21,5</text>
<text transform="translate(542.89,636.00) scale(0.66,1)" text-anchor="middle" fill="#3b3b3d" font-size="9.6" stroke="#3b3b3d" stroke-width="0.16" >12,6</text>
<line x1="74.70" y1="42.00" x2="74.70" y2="160.00" stroke="#8e8f91" stroke-width="0.55" stroke-dasharray="2.4 1.1 0.8 1.1"/>
<line x1="44.00" y1="101.90" x2="106.00" y2="101.90" stroke="#8e8f91" stroke-width="0.55" stroke-dasharray="2.4 1.1 0.8 1.1"/>
<rect x="47.60" y="49.90" width="54.30" height="105.70" rx="0" fill="none" stroke="#2b2b2d" stroke-width="1.0"/>
<path d="M51.800000000000004,53 H54.6 L55.800000000000004,55.1 H93.2 L94.4,53 H97.2 Q97.8,53 97.8,53.6 V69.80000000000001 Q97.8,70.4 97.2,70.4 H94.4 L93.2,68.30000000000001 H55.800000000000004 L54.6,70.4 H51.800000000000004 Q51.2,70.4 51.2,69.80000000000001 V53.6 Q51.2,53 51.800000000000004,53 Z" fill="none" stroke="#2b2b2d" stroke-width="0.85" stroke-linejoin="round" />
<line x1="53.50" y1="53.60" x2="53.50" y2="69.80" stroke="#2b2b2d" stroke-width="0.6" />
<line x1="95.50" y1="53.60" x2="95.50" y2="69.80" stroke="#2b2b2d" stroke-width="0.6" />
<line x1="55.20" y1="55.10" x2="55.20" y2="68.30" stroke="#8a8b8d" stroke-width="0.5" />
<line x1="93.80" y1="55.10" x2="93.80" y2="68.30" stroke="#8a8b8d" stroke-width="0.5" />
<line x1="50.00" y1="61.50" x2="99.00" y2="61.50" stroke="#8e8f91" stroke-width="0.55" stroke-dasharray="2.4 1.1 0.8 1.1"/>
<path d="M51.800000000000004,135.2 H54.6 L55.800000000000004,137.29999999999998 H93.2 L94.4,135.2 H97.2 Q97.8,135.2 97.8,135.79999999999998 V152.0 Q97.8,152.6 97.2,152.6 H94.4 L93.2,150.5 H55.800000000000004 L54.6,152.6 H51.800000000000004 Q51.2,152.6 51.2,152.0 V135.79999999999998 Q51.2,135.2 51.800000000000004,135.2 Z" fill="none" stroke="#2b2b2d" stroke-width="0.85" stroke-linejoin="round" />
<line x1="53.50" y1="135.80" x2="53.50" y2="152.00" stroke="#2b2b2d" stroke-width="0.6" />
<line x1="95.50" y1="135.80" x2="95.50" y2="152.00" stroke="#2b2b2d" stroke-width="0.6" />
<line x1="55.20" y1="137.30" x2="55.20" y2="150.50" stroke="#8a8b8d" stroke-width="0.5" />
<line x1="93.80" y1="137.30" x2="93.80" y2="150.50" stroke="#8a8b8d" stroke-width="0.5" />
<line x1="50.00" y1="143.80" x2="99.00" y2="143.80" stroke="#8e8f91" stroke-width="0.55" stroke-dasharray="2.4 1.1 0.8 1.1"/>
<line x1="47.60" y1="73.30" x2="101.90" y2="73.30" stroke="#2b2b2d" stroke-width="0.7" />
<line x1="47.60" y1="75.70" x2="101.90" y2="75.70" stroke="#2b2b2d" stroke-width="1.0" />
<line x1="47.60" y1="79.00" x2="101.90" y2="79.00" stroke="#2b2b2d" stroke-width="1.0" />
<line x1="47.60" y1="126.20" x2="101.90" y2="126.20" stroke="#2b2b2d" stroke-width="1.0" />
<line x1="47.60" y1="129.40" x2="101.90" y2="129.40" stroke="#2b2b2d" stroke-width="1.0" />
<line x1="47.60" y1="132.50" x2="101.90" y2="132.50" stroke="#2b2b2d" stroke-width="0.7" />
<circle cx="74.70" cy="102.50" r="23.40" fill="none" stroke="#2b2b2d" stroke-width="1.0"/>
<circle cx="74.70" cy="102.50" r="22.30" fill="none" stroke="#6a6b6d" stroke-width="0.45"/>
<circle cx="74.70" cy="102.50" r="21.30" fill="none" stroke="#6a6b6d" stroke-width="0.45"/>
<path d="M80.88,83.48 A20,20 0 0 1 93.72,96.32 L92.58,97.37 L94.77,97.87 A20.6,20.6 0 0 1 94.77,107.13 L92.58,107.63 L93.72,108.68 A20,20 0 0 1 80.88,121.52 Q76.90,122.10 74.70,120.40 Q72.50,122.10 68.52,121.52 A20,20 0 0 1 55.68,108.68 L56.82,107.63 L54.63,107.13 A20.6,20.6 0 0 1 54.63,97.87 L56.82,97.37 L55.68,96.32 A20,20 0 0 1 68.52,83.48 Q72.50,82.90 74.70,84.60 Q76.90,82.90 80.88,83.48 " fill="none" stroke="#2b2b2d" stroke-width="1.0" stroke-linejoin="round" />
<line x1="68.60" y1="79.30" x2="80.80" y2="79.30" stroke="#2b2b2d" stroke-width="1.5" />
<line x1="68.60" y1="125.90" x2="80.80" y2="125.90" stroke="#2b2b2d" stroke-width="1.5" />
<line x1="101.90" y1="49.90" x2="116.00" y2="49.90" stroke="#3a3a3c" stroke-width="0.5" />
<line x1="101.90" y1="155.60" x2="116.00" y2="155.60" stroke="#3a3a3c" stroke-width="0.5" />
<line x1="113.60" y1="49.90" x2="113.60" y2="155.60" stroke="#3a3a3c" stroke-width="0.55" />
<path d="M113.60,49.90 L114.75,53.40 L112.45,53.40 Z" fill="#3a3a3c"/>
<path d="M113.60,155.60 L112.45,152.10 L114.75,152.10 Z" fill="#3a3a3c"/>
<text transform="translate(111.40,100.20) rotate(-90)" text-anchor="middle" fill="#2f2f31" font-size="8.4">D</text>
<line x1="47.60" y1="155.60" x2="47.60" y2="170.50" stroke="#3a3a3c" stroke-width="0.5" />
<line x1="101.90" y1="155.60" x2="101.90" y2="170.50" stroke="#3a3a3c" stroke-width="0.5" />
<line x1="47.60" y1="168.60" x2="101.90" y2="168.60" stroke="#3a3a3c" stroke-width="0.55" />
<path d="M47.60,168.60 L51.10,167.45 L51.10,169.75 Z" fill="#3a3a3c"/>
<path d="M101.90,168.60 L98.40,169.75 L98.40,167.45 Z" fill="#3a3a3c"/>
<text x="75.20" y="166.60" text-anchor="middle" fill="#2f2f31" font-size="8.4">A</text>
<line x1="152.00" y1="103.00" x2="197.00" y2="103.00" stroke="#8e8f91" stroke-width="0.55" stroke-dasharray="2.4 1.1 0.8 1.1"/>
<path d="M176.4,125.1 H188.6 L193.7,131.2 V132.3 H166.2 V129.6 H176.4 Z" fill="#a4a5a7" stroke="#2b2b2d" stroke-width="0.6" stroke-linejoin="round" />
<path d="M177.4,127.6 H187.4 L188.6,129.2 H177.4 Z" fill="#fff" stroke="#555" stroke-width="0.4" stroke-linejoin="round" />
<path d="M165.6,50.4 H171.6 L173.3,52.4 V73.5 H192.7 L188.5,79.5 V125.1 L193.7,131.2 V132.3 H166.2 V129.7 H165.7 V126.9 H159.4 V79.2 H165.6 Z" fill="none" stroke="#2b2b2d" stroke-width="1.0" stroke-linejoin="round" />
<rect x="174.40" y="103.00" width="2.40" height="22.10" rx="0" fill="#a4a5a7" stroke="#2b2b2d" stroke-width="0.6"/>
<path d="M164.2,103 L165.4,104.4 L167.3,105.2 V117.5 L164.6,119.2 L165.4,121 L167.3,121.6 V124.4" fill="none" stroke="#2b2b2d" stroke-width="0.7" stroke-linejoin="round" />
<rect x="167.30" y="107.30" width="7.10" height="3.00" rx="0" fill="none" stroke="#2b2b2d" stroke-width="0.6"/>
<rect x="167.30" y="122.30" width="7.10" height="2.10" rx="0" fill="none" stroke="#2b2b2d" stroke-width="0.6"/>
<path d="M165.7,132.3 V153.2 Q165.7,155.3 167.4,155.3 H170.6 Q173.4,155.3 173.4,152.2 V132.3" fill="none" stroke="#2b2b2d" stroke-width="0.9" stroke-linejoin="round" />
<path d="M166.9,132.3 V152.4 Q166.9,153.2 168,153.2 H170.4 Q172,153.2 172,151" fill="none" stroke="#2b2b2d" stroke-width="0.5" stroke-linejoin="round" />
<line x1="172.00" y1="132.30" x2="172.00" y2="136.80" stroke="#2b2b2d" stroke-width="0.6" />
<rect x="169.90" y="136.80" width="2.90" height="13.80" rx="1.2" fill="#9b9c9e" stroke="#2b2b2d" stroke-width="0.6"/>
<line x1="192.70" y1="73.50" x2="209.00" y2="73.50" stroke="#3a3a3c" stroke-width="0.5" />
<line x1="193.70" y1="132.30" x2="209.00" y2="132.30" stroke="#3a3a3c" stroke-width="0.5" />
<line x1="207.40" y1="73.50" x2="207.40" y2="132.30" stroke="#3a3a3c" stroke-width="0.55" />
<path d="M207.40,73.50 L208.55,77.00 L206.25,77.00 Z" fill="#3a3a3c"/>
<path d="M207.40,132.30 L206.25,128.80 L208.55,128.80 Z" fill="#3a3a3c"/>
<text transform="translate(206.20,101.80) rotate(-90)" text-anchor="middle" fill="#2f2f31" font-size="8.4">45</text>
<line x1="159.40" y1="126.90" x2="159.40" y2="180.50" stroke="#3a3a3c" stroke-width="0.5" />
<line x1="173.60" y1="155.00" x2="173.60" y2="170.00" stroke="#3a3a3c" stroke-width="0.5" />
<line x1="193.70" y1="132.30" x2="193.70" y2="180.50" stroke="#3a3a3c" stroke-width="0.5" />
<line x1="159.40" y1="167.60" x2="173.60" y2="167.60" stroke="#3a3a3c" stroke-width="0.55" />
<path d="M159.40,167.60 L162.90,166.45 L162.90,168.75 Z" fill="#3a3a3c"/>
<path d="M173.60,167.60 L170.10,168.75 L170.10,166.45 Z" fill="#3a3a3c"/>
<text x="165.20" y="165.80" text-anchor="middle" fill="#2f2f31" font-size="8.4">C</text>
<line x1="159.40" y1="178.10" x2="193.70" y2="178.10" stroke="#3a3a3c" stroke-width="0.55" />
<path d="M159.40,178.10 L162.90,176.95 L162.90,179.25 Z" fill="#3a3a3c"/>
<path d="M193.70,178.10 L190.20,179.25 L190.20,176.95 Z" fill="#3a3a3c"/>
<text x="177.00" y="176.40" text-anchor="middle" fill="#2f2f31" font-size="8.4">B</text>
<line x1="335.30" y1="61.00" x2="335.30" y2="96.00" stroke="#3a3a3c" stroke-width="0.5" />
<line x1="391.20" y1="61.00" x2="391.20" y2="80.00" stroke="#3a3a3c" stroke-width="0.5" />
<line x1="335.30" y1="63.10" x2="391.20" y2="63.10" stroke="#3a3a3c" stroke-width="0.55" />
<path d="M335.30,63.10 L338.80,61.95 L338.80,64.25 Z" fill="#3a3a3c"/>
<path d="M391.20,63.10 L387.70,64.25 L387.70,61.95 Z" fill="#3a3a3c"/>
<g fill="none" stroke="#2f2f31" stroke-width="0.65"><circle cx="357.90" cy="57.80" r="2.05"/><line x1="355.70" y1="60.30" x2="360.10" y2="55.30"/></g>
<text x="363.90" y="60.20" text-anchor="middle" fill="#2f2f31" font-size="8.4">D</text>
<line x1="363.40" y1="101.20" x2="382.60" y2="100.20" stroke="#8d8e90" stroke-width="0.55" />
<line x1="363.40" y1="102.70" x2="382.60" y2="101.70" stroke="#a8a9ab" stroke-width="0.45" />
<line x1="363.40" y1="105.05" x2="382.60" y2="104.05" stroke="#8d8e90" stroke-width="0.55" />
<line x1="363.40" y1="106.55" x2="382.60" y2="105.55" stroke="#a8a9ab" stroke-width="0.45" />
<line x1="363.40" y1="108.90" x2="382.60" y2="107.90" stroke="#8d8e90" stroke-width="0.55" />
<line x1="363.40" y1="110.40" x2="382.60" y2="109.40" stroke="#a8a9ab" stroke-width="0.45" />
<line x1="363.40" y1="112.75" x2="382.60" y2="111.75" stroke="#8d8e90" stroke-width="0.55" />
<line x1="363.40" y1="114.25" x2="382.60" y2="113.25" stroke="#a8a9ab" stroke-width="0.45" />
<line x1="363.40" y1="116.60" x2="382.60" y2="115.60" stroke="#8d8e90" stroke-width="0.55" />
<line x1="363.40" y1="118.10" x2="382.60" y2="117.10" stroke="#a8a9ab" stroke-width="0.45" />
<line x1="363.40" y1="120.45" x2="382.60" y2="119.45" stroke="#8d8e90" stroke-width="0.55" />
<line x1="363.40" y1="121.95" x2="382.60" y2="120.95" stroke="#a8a9ab" stroke-width="0.45" />
<line x1="363.40" y1="124.30" x2="382.60" y2="123.30" stroke="#8d8e90" stroke-width="0.55" />
<line x1="363.40" y1="125.80" x2="382.60" y2="124.80" stroke="#a8a9ab" stroke-width="0.45" />
<line x1="342.60" y1="132.10" x2="363.40" y2="131.20" stroke="#8d8e90" stroke-width="0.55" />
<line x1="363.40" y1="131.20" x2="382.40" y2="130.30" stroke="#8d8e90" stroke-width="0.55" />
<line x1="342.60" y1="133.60" x2="363.40" y2="132.70" stroke="#a8a9ab" stroke-width="0.45" />
<line x1="363.40" y1="132.70" x2="382.40" y2="131.80" stroke="#a8a9ab" stroke-width="0.45" />
<line x1="342.60" y1="136.60" x2="363.40" y2="135.70" stroke="#8d8e90" stroke-width="0.55" />
<line x1="363.40" y1="135.70" x2="382.40" y2="134.80" stroke="#8d8e90" stroke-width="0.55" />
<line x1="342.60" y1="138.10" x2="363.40" y2="137.20" stroke="#a8a9ab" stroke-width="0.45" />
<line x1="363.40" y1="137.20" x2="382.40" y2="136.30" stroke="#a8a9ab" stroke-width="0.45" />
<line x1="342.60" y1="141.10" x2="363.40" y2="140.20" stroke="#8d8e90" stroke-width="0.55" />
<line x1="363.40" y1="140.20" x2="382.40" y2="139.30" stroke="#8d8e90" stroke-width="0.55" />
<line x1="342.60" y1="142.60" x2="363.40" y2="141.70" stroke="#a8a9ab" stroke-width="0.45" />
<line x1="363.40" y1="141.70" x2="382.40" y2="140.80" stroke="#a8a9ab" stroke-width="0.45" />
<line x1="342.60" y1="145.60" x2="363.40" y2="144.70" stroke="#8d8e90" stroke-width="0.55" />
<line x1="363.40" y1="144.70" x2="382.40" y2="143.80" stroke="#8d8e90" stroke-width="0.55" />
<line x1="342.60" y1="147.10" x2="363.40" y2="146.20" stroke="#a8a9ab" stroke-width="0.45" />
<line x1="363.40" y1="146.20" x2="382.40" y2="145.30" stroke="#a8a9ab" stroke-width="0.45" />
<path d="M378,77.9 H386.8 Q388.6,78 389.6,80.5 L390.6,84.5 L391.2,97.5 L390.2,112 L389,127 Q388.4,128.6 386.4,128.4 H384.6 V96 L382,95.4 L379.9,93 L377.4,92.4 L374.5,94.5 H370.3 V87.3 L371.8,85.3 V82.3 L378,80.4 Z" fill="#a6a7a9" stroke="#2b2b2d" stroke-width="0.7" stroke-linejoin="round" />
<path d="M384.9,96 Q382.0,96.5 382.4,97.6 Q382.6,98.8 385.0,99.8 Q382.0,100.3 382.4,101.4 Q382.6,102.6 385.0,103.7 Q382.0,104.2 382.4,105.3 Q382.6,106.5 385.0,107.5 Q382.0,108.0 382.4,109.1 Q382.6,110.3 385.0,111.4 Q382.0,111.9 382.4,113.0 Q382.6,114.2 385.0,115.2 Q382.0,115.7 382.4,116.8 Q382.6,118.0 385.0,119.1 Q382.0,119.6 382.4,120.7 Q382.6,121.9 385.0,122.9 Q382.0,123.4 382.4,124.5 Q382.6,125.7 385.0,126.8 " fill="#fff" stroke="#2b2b2d" stroke-width="0.9" stroke-linejoin="round" />
<line x1="390.00" y1="84.00" x2="389.00" y2="126.50" stroke="#5a5b5d" stroke-width="0.5" />
<path d="M339.6,77.6 H386.8 Q388.6,77.8 389.6,80.5 L390.6,84.5 L391.3,97.5 M339.6,77.6 Q338.2,77.7 337.7,79.4 L335.1,97.5 L336.4,99.6 H363.4" fill="none" stroke="#2b2b2d" stroke-width="1.0" stroke-linejoin="round" />
<line x1="335.30" y1="96.80" x2="363.40" y2="96.80" stroke="#2b2b2d" stroke-width="0.8" />
<path d="M338.6,78.4 H344.4 L342.7,95.2 Q342.6,96 341.8,96 H335.7 Z" fill="none" stroke="#2b2b2d" stroke-width="0.7" stroke-linejoin="round" />
<line x1="344.20" y1="78.60" x2="335.90" y2="92.40" stroke="#2b2b2d" stroke-width="0.7" />
<path d="M356,78.4 H363.4 M363.4,96 H355.4 Q354.1,96 354.2,94.6 L356,78.4" fill="none" stroke="#2b2b2d" stroke-width="0.7" stroke-linejoin="round" />
<line x1="357.50" y1="78.40" x2="357.50" y2="96.00" stroke="#2b2b2d" stroke-width="0.7" />
<line x1="363.40" y1="80.30" x2="378.00" y2="80.30" stroke="#2b2b2d" stroke-width="1.1" />
<line x1="363.40" y1="82.30" x2="371.80" y2="82.30" stroke="#2b2b2d" stroke-width="0.6" />
<line x1="363.40" y1="85.30" x2="371.80" y2="85.30" stroke="#2b2b2d" stroke-width="0.9" />
<rect x="363.40" y="87.30" width="6.90" height="4.10" rx="0" fill="none" stroke="#2b2b2d" stroke-width="0.6"/>
<line x1="365.40" y1="87.60" x2="364.60" y2="91.20" stroke="#2b2b2d" stroke-width="0.4" />
<line x1="366.80" y1="87.60" x2="366.00" y2="91.20" stroke="#2b2b2d" stroke-width="0.4" />
<line x1="368.20" y1="87.60" x2="367.40" y2="91.20" stroke="#2b2b2d" stroke-width="0.4" />
<line x1="369.60" y1="87.60" x2="368.80" y2="91.20" stroke="#2b2b2d" stroke-width="0.4" />
<line x1="363.40" y1="94.50" x2="370.30" y2="94.50" stroke="#2b2b2d" stroke-width="0.6" />
<path d="M336.4,99.6 L337.8,127.9 H363.4" fill="none" stroke="#2b2b2d" stroke-width="1.0" stroke-linejoin="round" />
<line x1="363.40" y1="77.60" x2="363.40" y2="147.30" stroke="#77787a" stroke-width="0.5" />
<path d="M341.6,127.9 Q343.8,128.8 343.2,129.9 Q341.0,131.3 341.6,132.4 Q343.8,133.3 343.2,134.4 Q341.0,135.8 341.6,136.9 Q343.8,137.8 343.2,138.9 Q341.0,140.3 341.6,141.4 Q343.8,142.3 343.2,143.4 Q341.0,144.8 341.6,145.9 L342.4,147.3" fill="none" stroke="#2b2b2d" stroke-width="0.9" stroke-linejoin="round" />
<path d="M383.4,127.9 Q381.6,128.8 382.2,129.9 Q384.6,131.3 383.6,132.4 Q381.6,133.3 382.2,134.4 Q384.6,135.8 383.6,136.9 Q381.6,137.8 382.2,138.9 Q384.6,140.3 383.6,141.4 Q381.6,142.3 382.2,143.4 Q384.6,144.8 383.6,145.9 L381.6,147.3" fill="none" stroke="#2b2b2d" stroke-width="0.9" stroke-linejoin="round" />
<line x1="342.40" y1="147.30" x2="381.60" y2="147.30" stroke="#2b2b2d" stroke-width="1.0" />
<line x1="337.80" y1="127.90" x2="341.60" y2="127.90" stroke="#2b2b2d" stroke-width="0.9" />
<line x1="388.00" y1="77.60" x2="407.50" y2="77.60" stroke="#3a3a3c" stroke-width="0.5" />
<line x1="382.00" y1="147.30" x2="407.50" y2="147.30" stroke="#3a3a3c" stroke-width="0.5" />
<line x1="405.20" y1="77.60" x2="405.20" y2="147.30" stroke="#3a3a3c" stroke-width="0.55" />
<path d="M405.20,77.60 L406.35,81.10 L404.05,81.10 Z" fill="#3a3a3c"/>
<path d="M405.20,147.30 L404.05,143.80 L406.35,143.80 Z" fill="#3a3a3c"/>
<text transform="translate(403.60,111.60) rotate(-90)" text-anchor="middle" fill="#2f2f31" font-size="8.4">B</text>
<line x1="321.50" y1="127.90" x2="338.00" y2="127.90" stroke="#3a3a3c" stroke-width="0.5" />
<line x1="321.50" y1="147.30" x2="342.00" y2="147.30" stroke="#3a3a3c" stroke-width="0.5" />
<line x1="324.40" y1="127.90" x2="324.40" y2="147.30" stroke="#3a3a3c" stroke-width="0.55" />
<path d="M324.40,127.90 L325.55,131.40 L323.25,131.40 Z" fill="#3a3a3c"/>
<path d="M324.40,147.30 L323.25,143.80 L325.55,143.80 Z" fill="#3a3a3c"/>
<text transform="translate(321.90,137.30) rotate(-90)" text-anchor="middle" fill="#2f2f31" font-size="8.4">C</text>
<line x1="336.80" y1="128.00" x2="336.80" y2="162.50" stroke="#3a3a3c" stroke-width="0.5" />
<line x1="388.40" y1="128.50" x2="388.40" y2="162.50" stroke="#3a3a3c" stroke-width="0.5" />
<line x1="336.80" y1="160.70" x2="388.40" y2="160.70" stroke="#3a3a3c" stroke-width="0.55" />
<path d="M336.80,160.70 L340.30,159.55 L340.30,161.85 Z" fill="#3a3a3c"/>
<path d="M388.40,160.70 L384.90,161.85 L384.90,159.55 Z" fill="#3a3a3c"/>
<text x="363.20" y="157.00" text-anchor="middle" fill="#2f2f31" font-size="8.4">A</text>
<line x1="34.40" y1="259.00" x2="34.40" y2="285.00" stroke="#3a3a3c" stroke-width="0.5" />
<line x1="146.30" y1="259.00" x2="146.30" y2="285.00" stroke="#3a3a3c" stroke-width="0.5" />
<line x1="34.40" y1="261.60" x2="146.30" y2="261.60" stroke="#3a3a3c" stroke-width="0.55" />
<path d="M34.40,261.60 L37.90,260.45 L37.90,262.75 Z" fill="#3a3a3c"/>
<path d="M146.30,261.60 L142.80,262.75 L142.80,260.45 Z" fill="#3a3a3c"/>
<text x="88.20" y="259.40" text-anchor="middle" fill="#2f2f31" font-size="8.4">A</text>
<line x1="31.00" y1="333.60" x2="150.00" y2="333.60" stroke="#8e8f91" stroke-width="0.55" stroke-dasharray="2.4 1.1 0.8 1.1"/>
<rect x="34.40" y="285.20" width="111.90" height="96.20" rx="0" fill="none" stroke="#2b2b2d" stroke-width="1.1"/>
<rect x="37.60" y="287.60" width="105.30" height="13.10" rx="2.0" fill="none" stroke="#2b2b2d" stroke-width="1.0"/>
<path d="M40.800000000000004,287.6 Q40.0,294.15 40.800000000000004,300.7" fill="none" stroke="#2b2b2d" stroke-width="0.7" stroke-linejoin="round" />
<path d="M139.70000000000002,287.6 Q140.5,294.15 139.70000000000002,300.7" fill="none" stroke="#2b2b2d" stroke-width="0.7" stroke-linejoin="round" />
<line x1="39.10" y1="289.10" x2="39.10" y2="299.20" stroke="#8a8b8d" stroke-width="0.5" />
<line x1="141.40" y1="289.10" x2="141.40" y2="299.20" stroke="#8a8b8d" stroke-width="0.5" />
<line x1="38.60" y1="294.15" x2="141.90" y2="294.15" stroke="#8e8f91" stroke-width="0.55" stroke-dasharray="2.4 1.1 0.8 1.1"/>
<rect x="37.60" y="366.20" width="105.30" height="13.10" rx="2.0" fill="none" stroke="#2b2b2d" stroke-width="1.0"/>
<path d="M40.800000000000004,366.2 Q40.0,372.75 40.800000000000004,379.3" fill="none" stroke="#2b2b2d" stroke-width="0.7" stroke-linejoin="round" />
<path d="M139.70000000000002,366.2 Q140.5,372.75 139.70000000000002,379.3" fill="none" stroke="#2b2b2d" stroke-width="0.7" stroke-linejoin="round" />
<line x1="39.10" y1="367.70" x2="39.10" y2="377.80" stroke="#8a8b8d" stroke-width="0.5" />
<line x1="141.40" y1="367.70" x2="141.40" y2="377.80" stroke="#8a8b8d" stroke-width="0.5" />
<line x1="38.60" y1="372.75" x2="141.90" y2="372.75" stroke="#8e8f91" stroke-width="0.55" stroke-dasharray="2.4 1.1 0.8 1.1"/>
<rect x="34.40" y="303.30" width="111.90" height="3.20" rx="0" fill="#949597" stroke="#2b2b2d" stroke-width="0.7"/>
<line x1="34.40" y1="304.90" x2="146.30" y2="304.90" stroke="#b9babc" stroke-width="0.6" />
<line x1="34.40" y1="314.70" x2="146.30" y2="314.70" stroke="#2b2b2d" stroke-width="1.1" />
<rect x="34.40" y="360.90" width="111.90" height="2.80" rx="0" fill="#949597" stroke="#2b2b2d" stroke-width="0.7"/>
<line x1="34.40" y1="362.30" x2="146.30" y2="362.30" stroke="#b9babc" stroke-width="0.5" />
<line x1="54.50" y1="310.00" x2="54.50" y2="357.50" stroke="#8e8f91" stroke-width="0.55" stroke-dasharray="2.4 1.1 0.8 1.1"/>
<circle cx="54.50" cy="333.60" r="17.20" fill="none" stroke="#2b2b2d" stroke-width="1.0"/>
<circle cx="54.50" cy="333.60" r="12.70" fill="none" stroke="#2b2b2d" stroke-width="1.0"/>
<line x1="90.80" y1="310.00" x2="90.80" y2="357.50" stroke="#8e8f91" stroke-width="0.55" stroke-dasharray="2.4 1.1 0.8 1.1"/>
<circle cx="90.80" cy="333.60" r="17.20" fill="none" stroke="#2b2b2d" stroke-width="1.0"/>
<circle cx="90.80" cy="333.60" r="12.70" fill="none" stroke="#2b2b2d" stroke-width="1.0"/>
<line x1="127.50" y1="310.00" x2="127.50" y2="357.50" stroke="#8e8f91" stroke-width="0.55" stroke-dasharray="2.4 1.1 0.8 1.1"/>
<circle cx="127.50" cy="333.60" r="17.20" fill="none" stroke="#2b2b2d" stroke-width="1.0"/>
<circle cx="127.50" cy="333.60" r="12.70" fill="none" stroke="#2b2b2d" stroke-width="1.0"/>
<rect x="78.90" y="330.70" width="2.20" height="6.20" rx="0" fill="#b5b6b8" stroke="#2b2b2d" stroke-width="0.6"/>
<rect x="100.60" y="330.70" width="2.30" height="6.20" rx="0" fill="#b5b6b8" stroke="#2b2b2d" stroke-width="0.6"/>
<line x1="146.30" y1="285.20" x2="161.50" y2="285.20" stroke="#3a3a3c" stroke-width="0.5" />
<line x1="146.30" y1="381.40" x2="161.50" y2="381.40" stroke="#3a3a3c" stroke-width="0.5" />
<line x1="158.90" y1="285.20" x2="158.90" y2="381.40" stroke="#3a3a3c" stroke-width="0.55" />
<path d="M158.90,285.20 L160.05,288.70 L157.75,288.70 Z" fill="#3a3a3c"/>
<path d="M158.90,381.40 L157.75,377.90 L160.05,377.90 Z" fill="#3a3a3c"/>
<text transform="translate(157.40,333.80) rotate(-90)" text-anchor="middle" fill="#2f2f31" font-size="8.4">D</text>
<line x1="174.40" y1="261.00" x2="174.40" y2="308.00" stroke="#3a3a3c" stroke-width="0.5" />
<line x1="204.80" y1="261.00" x2="204.80" y2="306.00" stroke="#3a3a3c" stroke-width="0.5" />
<line x1="174.40" y1="263.00" x2="204.80" y2="263.00" stroke="#3a3a3c" stroke-width="0.55" />
<path d="M174.40,263.00 L177.90,261.85 L177.90,264.15 Z" fill="#3a3a3c"/>
<path d="M204.80,263.00 L201.30,264.15 L201.30,261.85 Z" fill="#3a3a3c"/>
<text x="189.80" y="260.40" text-anchor="middle" fill="#2f2f31" font-size="8.4">B</text>
<line x1="187.50" y1="273.00" x2="187.50" y2="285.50" stroke="#3a3a3c" stroke-width="0.5" />
<line x1="166.10" y1="275.40" x2="195.80" y2="275.40" stroke="#3a3a3c" stroke-width="0.55" />
<path d="M174.40,275.40 L170.90,276.55 L170.90,274.25 Z" fill="#3a3a3c"/>
<path d="M187.50,275.40 L191.00,274.25 L191.00,276.55 Z" fill="#3a3a3c"/>
<line x1="187.50" y1="275.40" x2="198.20" y2="275.40" stroke="#3a3a3c" stroke-width="0.55" />
<text x="182.90" y="273.40" text-anchor="middle" fill="#2f2f31" font-size="8.4">C</text>
<line x1="169.00" y1="333.20" x2="214.00" y2="333.20" stroke="#8e8f91" stroke-width="0.55" stroke-dasharray="2.4 1.1 0.8 1.1"/>
<path d="M180.3,285.3 H186 L187.3,286.8 V306.2 H205 L200.8,313.1 V354.1 M174.6,358.5 V308 H180.3 V285.3 M174.6,358.5 H180.1 V381.6 H186.9" fill="none" stroke="#2b2b2d" stroke-width="1.0" stroke-linejoin="round" />
<line x1="174.60" y1="308.00" x2="174.60" y2="358.50" stroke="#2b2b2d" stroke-width="1.0" />
<rect x="170.90" y="328.40" width="3.70" height="9.40" rx="0" fill="#fff" stroke="#2b2b2d" stroke-width="0.7"/>
<rect x="174.60" y="337.80" width="12.00" height="13.20" rx="0" fill="none" stroke="#2b2b2d" stroke-width="0.7"/>
<rect x="174.60" y="337.80" width="12.00" height="1.90" rx="0" fill="#8d8e90" stroke="#2b2b2d" stroke-width="0.4"/>
<line x1="175.40" y1="337.80" x2="175.40" y2="351.00" stroke="#2b2b2d" stroke-width="1.3" />
<path d="M188,333.2 V351 Q188,355.3 192,355.3 H200.6 L204,358 L202.4,360 H187 Q185.3,360 185.3,362 V380.4" fill="none" stroke="#2b2b2d" stroke-width="3.2" stroke-linejoin="round"/>
<path d="M188,333.2 V351 Q188,355.3 192,355.3 H200.6 L204,358 L202.4,360 H187 Q185.3,360 185.3,362 V380.4" fill="none" stroke="#a9aaac" stroke-width="1.5" stroke-linejoin="round"/>
<path d="M188,332.6 V350" fill="none" stroke="#fff" stroke-width="1.7"/>
<path d="M186.3,333.2 H189.7" fill="none" stroke="#fff" stroke-width="1.2"/>
<line x1="180.10" y1="380.60" x2="187.00" y2="380.60" stroke="#2b2b2d" stroke-width="2.0" />
<line x1="204.50" y1="306.20" x2="222.00" y2="306.20" stroke="#3a3a3c" stroke-width="0.5" />
<line x1="204.00" y1="361.20" x2="222.00" y2="361.20" stroke="#3a3a3c" stroke-width="0.5" />
<line x1="219.60" y1="306.20" x2="219.60" y2="361.20" stroke="#3a3a3c" stroke-width="0.55" />
<path d="M219.60,306.20 L220.75,309.70 L218.45,309.70 Z" fill="#3a3a3c"/>
<path d="M219.60,361.20 L218.45,357.70 L220.75,357.70 Z" fill="#3a3a3c"/>
<text transform="translate(218.20,332.00) rotate(-90)" text-anchor="middle" fill="#2f2f31" font-size="8.4">45</text>
<line x1="320.00" y1="259.10" x2="320.00" y2="291.30" stroke="#3a3a3c" stroke-width="0.5" />
<line x1="385.20" y1="259.10" x2="385.20" y2="291.30" stroke="#3a3a3c" stroke-width="0.5" />
<line x1="320.00" y1="261.10" x2="385.20" y2="261.10" stroke="#3a3a3c" stroke-width="0.55" />
<path d="M320.00,261.10 L323.50,259.95 L323.50,262.25 Z" fill="#3a3a3c"/>
<path d="M385.20,261.10 L381.70,262.25 L381.70,259.95 Z" fill="#3a3a3c"/>
<g fill="none" stroke="#2f2f31" stroke-width="0.65"><circle cx="349.10" cy="256.50" r="2.05"/><line x1="346.90" y1="259.00" x2="351.30" y2="254.00"/></g>
<text x="355.10" y="258.90" text-anchor="middle" fill="#2f2f31" font-size="8.4">D</text>
<line x1="332.40" y1="271.50" x2="332.40" y2="291.30" stroke="#3a3a3c" stroke-width="0.5" />
<line x1="372.40" y1="271.50" x2="372.40" y2="291.30" stroke="#3a3a3c" stroke-width="0.5" />
<line x1="332.40" y1="273.50" x2="372.40" y2="273.50" stroke="#3a3a3c" stroke-width="0.55" />
<path d="M332.40,273.50 L335.90,272.35 L335.90,274.65 Z" fill="#3a3a3c"/>
<path d="M372.40,273.50 L368.90,274.65 L368.90,272.35 Z" fill="#3a3a3c"/>
<g fill="none" stroke="#2f2f31" stroke-width="0.65"><circle cx="349.10" cy="268.90" r="2.05"/><line x1="346.90" y1="271.40" x2="351.30" y2="266.40"/></g>
<text x="355.10" y="271.30" text-anchor="middle" fill="#2f2f31" font-size="8.4">B</text>
<path d="M325.8,291.3 H332.4 V318 H338.9 V323.6 H332.8 V326.2 H325.8 Z" fill="#b9babc" stroke="#2b2b2d" stroke-width="0.5" stroke-linejoin="round" />
<path d="M379,291.3 H372.4 V318 H366.3 V323.6 H372.4 V326.2 H379 Z" fill="#b9babc" stroke="#2b2b2d" stroke-width="0.5" stroke-linejoin="round" />
<rect x="320.00" y="291.30" width="65.20" height="34.90" rx="0" fill="none" stroke="#2b2b2d" stroke-width="0.9"/>
<line x1="325.80" y1="291.30" x2="325.80" y2="326.20" stroke="#2b2b2d" stroke-width="0.8" />
<line x1="379.00" y1="291.30" x2="379.00" y2="326.20" stroke="#2b2b2d" stroke-width="0.8" />
<path d="M332.4,291.3 V318 H338.9 M372.4,291.3 V318 H366.3" fill="none" stroke="#2b2b2d" stroke-width="0.9" stroke-linejoin="round" />
<rect x="338.90" y="314.50" width="27.40" height="8.60" rx="1" fill="#fff" stroke="#2b2b2d" stroke-width="0.8"/>
<rect x="332.80" y="323.60" width="39.60" height="4.70" rx="1.2" fill="#fff" stroke="#2b2b2d" stroke-width="0.8"/>
<path d="M345.5,328.3 V336.0 L346.5,337.2 H358.3 L359.3,336.0 V328.3" fill="#fff" stroke="#2b2b2d" stroke-width="0.8" stroke-linejoin="round" />
<line x1="345.90" y1="335.60" x2="358.90" y2="335.60" stroke="#2b2b2d" stroke-width="0.5" />
<line x1="352.50" y1="286.30" x2="352.50" y2="340.20" stroke="#8e8f91" stroke-width="0.55" stroke-dasharray="2.4 1.1 0.8 1.1"/>
<line x1="300.60" y1="291.30" x2="320.00" y2="291.30" stroke="#3a3a3c" stroke-width="0.5" />
<line x1="300.60" y1="337.20" x2="345.50" y2="337.20" stroke="#3a3a3c" stroke-width="0.5" />
<line x1="302.60" y1="291.30" x2="302.60" y2="337.20" stroke="#3a3a3c" stroke-width="0.55" />
<path d="M302.60,291.30 L303.75,294.80 L301.45,294.80 Z" fill="#3a3a3c"/>
<path d="M302.60,337.20 L301.45,333.70 L303.75,333.70 Z" fill="#3a3a3c"/>
<text transform="translate(299.40,314.75) rotate(-90)" text-anchor="middle" fill="#2f2f31" font-size="8.4">C</text>
<line x1="345.50" y1="337.20" x2="345.50" y2="355.30" stroke="#3a3a3c" stroke-width="0.5" />
<line x1="359.30" y1="337.20" x2="359.30" y2="355.30" stroke="#3a3a3c" stroke-width="0.5" />
<line x1="345.50" y1="353.30" x2="359.30" y2="353.30" stroke="#3a3a3c" stroke-width="0.55" />
<path d="M345.50,353.30 L349.00,352.15 L349.00,354.45 Z" fill="#3a3a3c"/>
<path d="M359.30,353.30 L355.80,354.45 L355.80,352.15 Z" fill="#3a3a3c"/>
<text x="352.30" y="350.90" text-anchor="middle" fill="#2f2f31" font-size="8.4">A</text>
<line x1="551.50" y1="263.40" x2="551.50" y2="305.50" stroke="#3a3a3c" stroke-width="0.5" />
<line x1="637.00" y1="263.40" x2="637.00" y2="305.50" stroke="#3a3a3c" stroke-width="0.5" />
<line x1="551.50" y1="265.40" x2="637.00" y2="265.40" stroke="#3a3a3c" stroke-width="0.55" />
<path d="M551.50,265.40 L555.00,264.25 L555.00,266.55 Z" fill="#3a3a3c"/>
<path d="M637.00,265.40 L633.50,266.55 L633.50,264.25 Z" fill="#3a3a3c"/>
<g fill="none" stroke="#2f2f31" stroke-width="0.65"><circle cx="591.00" cy="260.80" r="2.05"/><line x1="588.80" y1="263.30" x2="593.20" y2="258.30"/></g>
<text x="597.00" y="263.20" text-anchor="middle" fill="#2f2f31" font-size="8.4">D</text>
<line x1="568.20" y1="280.30" x2="568.20" y2="305.50" stroke="#3a3a3c" stroke-width="0.5" />
<line x1="619.90" y1="280.30" x2="619.90" y2="305.50" stroke="#3a3a3c" stroke-width="0.5" />
<line x1="568.20" y1="282.30" x2="619.90" y2="282.30" stroke="#3a3a3c" stroke-width="0.55" />
<path d="M568.20,282.30 L571.70,281.15 L571.70,283.45 Z" fill="#3a3a3c"/>
<path d="M619.90,282.30 L616.40,283.45 L616.40,281.15 Z" fill="#3a3a3c"/>
<g fill="none" stroke="#2f2f31" stroke-width="0.65"><circle cx="591.00" cy="277.70" r="2.05"/><line x1="588.80" y1="280.20" x2="593.20" y2="275.20"/></g>
<text x="597.00" y="280.10" text-anchor="middle" fill="#2f2f31" font-size="8.4">B</text>
<path d="M559.3,305.5 H568.2 V340.4 H576.2 V347.1 H568.4 V350.7 H559.3 Z" fill="#b9babc" stroke="#2b2b2d" stroke-width="0.5" stroke-linejoin="round" />
<path d="M629.7,305.5 H619.9 V340.4 H612.6 V347.1 H620.6 V350.7 H629.7 Z" fill="#b9babc" stroke="#2b2b2d" stroke-width="0.5" stroke-linejoin="round" />
<rect x="551.50" y="305.50" width="85.50" height="45.20" rx="0" fill="none" stroke="#2b2b2d" stroke-width="0.9"/>
<line x1="559.30" y1="305.50" x2="559.30" y2="350.70" stroke="#2b2b2d" stroke-width="0.8" />
<line x1="629.70" y1="305.50" x2="629.70" y2="350.70" stroke="#2b2b2d" stroke-width="0.8" />
<path d="M568.2,305.5 V340.4 H576.2 M619.9,305.5 V340.4 H612.6" fill="none" stroke="#2b2b2d" stroke-width="0.9" stroke-linejoin="round" />
<rect x="576.20" y="335.10" width="36.40" height="11.40" rx="1" fill="#fff" stroke="#2b2b2d" stroke-width="0.8"/>
<rect x="568.40" y="347.10" width="52.20" height="6.40" rx="1.2" fill="#fff" stroke="#2b2b2d" stroke-width="0.8"/>
<path d="M585.7,353.5 V364.5 L586.7,365.7 H601.6 L602.6,364.5 V353.5" fill="#fff" stroke="#2b2b2d" stroke-width="0.8" stroke-linejoin="round" />
<line x1="586.10" y1="364.10" x2="602.20" y2="364.10" stroke="#2b2b2d" stroke-width="0.5" />
<line x1="594.40" y1="300.50" x2="594.40" y2="368.70" stroke="#8e8f91" stroke-width="0.55" stroke-dasharray="2.4 1.1 0.8 1.1"/>
<line x1="527.40" y1="305.50" x2="551.50" y2="305.50" stroke="#3a3a3c" stroke-width="0.5" />
<line x1="527.40" y1="365.70" x2="585.70" y2="365.70" stroke="#3a3a3c" stroke-width="0.5" />
<line x1="529.40" y1="305.50" x2="529.40" y2="365.70" stroke="#3a3a3c" stroke-width="0.55" />
<path d="M529.40,305.50 L530.55,309.00 L528.25,309.00 Z" fill="#3a3a3c"/>
<path d="M529.40,365.70 L528.25,362.20 L530.55,362.20 Z" fill="#3a3a3c"/>
<text transform="translate(526.20,336.10) rotate(-90)" text-anchor="middle" fill="#2f2f31" font-size="8.4">C</text>
<line x1="585.70" y1="365.70" x2="585.70" y2="388.20" stroke="#3a3a3c" stroke-width="0.5" />
<line x1="602.60" y1="365.70" x2="602.60" y2="388.20" stroke="#3a3a3c" stroke-width="0.5" />
<line x1="585.70" y1="386.20" x2="602.60" y2="386.20" stroke="#3a3a3c" stroke-width="0.55" />
<path d="M585.70,386.20 L589.20,385.05 L589.20,387.35 Z" fill="#3a3a3c"/>
<path d="M602.60,386.20 L599.10,387.35 L599.10,385.05 Z" fill="#3a3a3c"/>
<text x="594.20" y="383.80" text-anchor="middle" fill="#2f2f31" font-size="8.4">A</text>
<line x1="61.00" y1="528.40" x2="259.00" y2="528.40" stroke="#8e8f91" stroke-width="0.55" stroke-dasharray="2.4 1.1 0.8 1.1"/>
<rect x="65.40" y="520.20" width="4.30" height="16.00" rx="0" fill="none" stroke="#2b2b2d" stroke-width="0.9"/>
<line x1="69.70" y1="520.20" x2="82.00" y2="520.20" stroke="#3a3a3c" stroke-width="0.5" />
<line x1="69.70" y1="536.20" x2="82.00" y2="536.20" stroke="#3a3a3c" stroke-width="0.5" />
<line x1="79.80" y1="520.20" x2="79.80" y2="536.20" stroke="#3a3a3c" stroke-width="0.55" />
<path d="M79.80,520.20 L80.95,523.70 L78.65,523.70 Z" fill="#3a3a3c"/>
<path d="M79.80,536.20 L78.65,532.70 L80.95,532.70 Z" fill="#3a3a3c"/>
<text transform="translate(77.80,528.40) rotate(-90)" text-anchor="middle" fill="#2f2f31" font-size="7.8">E</text>
<line x1="65.40" y1="536.20" x2="65.40" y2="549.00" stroke="#3a3a3c" stroke-width="0.5" />
<line x1="69.70" y1="536.20" x2="69.70" y2="549.00" stroke="#3a3a3c" stroke-width="0.5" />
<line x1="59.80" y1="547.00" x2="75.30" y2="547.00" stroke="#3a3a3c" stroke-width="0.55" />
<path d="M65.40,547.00 L61.90,548.15 L61.90,545.85 Z" fill="#3a3a3c"/>
<path d="M69.70,547.00 L73.20,545.85 L73.20,548.15 Z" fill="#3a3a3c"/>
<text x="78.40" y="545.60" text-anchor="middle" fill="#2f2f31" font-size="8.0">D</text>
<path d="M85.4,536.2 V520.2 H106.4 L107.6,522.3 H114.9 L116.1,520.2 H122.80000000000001 L124.0,522.3 H132.4 L133.6,520.2 H161.4 L162.6,522.3 H169.6 L170.79999999999998,520.2 H176.9 L178.1,522.3 H185.8 L187.0,520.2 H207.4 L208.6,522.3 H216.70000000000002 L217.9,520.2 H223.8 L225.0,522.3 H233.4 L234.6,520.2 H254.8 V536.2 H234.6 L233.4,534.3 H225.0 L223.8,536.2 H217.9 L216.70000000000002,534.3 H208.6 L207.4,536.2 H187.0 L185.8,534.3 H178.1 L176.9,536.2 H170.79999999999998 L169.6,534.3 H162.6 L161.4,536.2 H133.6 L132.4,534.3 H124.0 L122.80000000000001,536.2 H116.1 L114.9,534.3 H107.6 L106.4,536.2 H85.4 Z" fill="none" stroke="#2b2b2d" stroke-width="1.0" stroke-linejoin="round" />
<line x1="198.10" y1="520.20" x2="198.10" y2="536.20" stroke="#2b2b2d" stroke-width="0.7" />
<line x1="199.30" y1="520.20" x2="199.30" y2="536.20" stroke="#2b2b2d" stroke-width="0.7" />
<rect x="100.50" y="522.20" width="2.60" height="12.20" rx="0" fill="#d0d1d3" stroke="#2b2b2d" stroke-width="0.7"/>
<rect x="135.60" y="522.20" width="2.60" height="12.20" rx="0" fill="#b4b5b7" stroke="#2b2b2d" stroke-width="0.7"/>
<rect x="154.60" y="522.20" width="2.60" height="12.20" rx="0" fill="#d0d1d3" stroke="#2b2b2d" stroke-width="0.7"/>
<rect x="189.50" y="522.20" width="2.60" height="12.20" rx="0" fill="#a2a3a5" stroke="#2b2b2d" stroke-width="0.7"/>
<rect x="202.00" y="522.20" width="2.60" height="12.20" rx="0" fill="#fff" stroke="#2b2b2d" stroke-width="0.7"/>
<rect x="236.90" y="522.20" width="2.60" height="12.20" rx="0" fill="#d0d1d3" stroke="#2b2b2d" stroke-width="0.7"/>
<line x1="119.20" y1="516.50" x2="119.20" y2="549.00" stroke="#8e8f91" stroke-width="0.55" stroke-dasharray="2.4 1.1 0.8 1.1"/>
<circle cx="119.20" cy="528.40" r="1.75" fill="#fff" stroke="#2b2b2d" stroke-width="1.0"/>
<line x1="173.60" y1="516.50" x2="173.60" y2="549.00" stroke="#8e8f91" stroke-width="0.55" stroke-dasharray="2.4 1.1 0.8 1.1"/>
<circle cx="173.60" cy="528.40" r="1.75" fill="#fff" stroke="#2b2b2d" stroke-width="1.0"/>
<line x1="220.80" y1="516.50" x2="220.80" y2="549.00" stroke="#8e8f91" stroke-width="0.55" stroke-dasharray="2.4 1.1 0.8 1.1"/>
<circle cx="220.80" cy="528.40" r="1.75" fill="#fff" stroke="#2b2b2d" stroke-width="1.0"/>
<line x1="85.40" y1="536.20" x2="85.40" y2="558.50" stroke="#3a3a3c" stroke-width="0.5" />
<line x1="254.80" y1="536.20" x2="254.80" y2="558.50" stroke="#3a3a3c" stroke-width="0.5" />
<line x1="85.40" y1="547.20" x2="119.20" y2="547.20" stroke="#3a3a3c" stroke-width="0.55" />
<path d="M85.40,547.20 L88.90,546.05 L88.90,548.35 Z" fill="#3a3a3c"/>
<path d="M119.20,547.20 L115.70,548.35 L115.70,546.05 Z" fill="#3a3a3c"/>
<line x1="119.20" y1="547.20" x2="173.60" y2="547.20" stroke="#3a3a3c" stroke-width="0.55" />
<path d="M119.20,547.20 L122.70,546.05 L122.70,548.35 Z" fill="#3a3a3c"/>
<path d="M173.60,547.20 L170.10,548.35 L170.10,546.05 Z" fill="#3a3a3c"/>
<text x="100.40" y="545.40" text-anchor="middle" fill="#2f2f31" font-size="8.0">B</text>
<text x="144.60" y="545.40" text-anchor="middle" fill="#2f2f31" font-size="8.0">C</text>
<line x1="85.40" y1="556.20" x2="254.80" y2="556.20" stroke="#3a3a3c" stroke-width="0.55" />
<path d="M85.40,556.20 L88.90,555.05 L88.90,557.35 Z" fill="#3a3a3c"/>
<path d="M254.80,556.20 L251.30,557.35 L251.30,555.05 Z" fill="#3a3a3c"/>
<text x="178.10" y="552.80" text-anchor="middle" fill="#2f2f31" font-size="8.0">A</text>
<line x1="218.40" y1="530.60" x2="218.40" y2="549.00" stroke="#3a3a3c" stroke-width="0.5" />
<line x1="223.60" y1="530.60" x2="223.60" y2="549.00" stroke="#3a3a3c" stroke-width="0.5" />
<line x1="211.80" y1="547.40" x2="230.20" y2="547.40" stroke="#3a3a3c" stroke-width="0.55" />
<path d="M218.40,547.40 L214.90,548.55 L214.90,546.25 Z" fill="#3a3a3c"/>
<path d="M223.60,547.40 L227.10,546.25 L227.10,548.55 Z" fill="#3a3a3c"/>
<text x="209.60" y="544.80" text-anchor="middle" fill="#2f2f31" font-size="7.8">F</text>
<path d="M410.7,524.5 H414 M428.9,524.5 H433 M440.3,524.5 H449 V545.9 Q445.6,546.6 444.6,549.9 H437.5 V543.6 H439.6 V534.6 H418.7 V543.6 H421.7 V549.9 H413.8 Q413,546.6 409.7,545.9 V525.5 Q409.7,524.5 410.7,524.5" fill="none" stroke="#5a5b5d" stroke-width="0.85" stroke-linejoin="round" />
<line x1="421.70" y1="543.60" x2="418.70" y2="543.60" stroke="#5a5b5d" stroke-width="0.85" />
<rect x="416.10" y="506.30" width="10.70" height="3.60" rx="0" fill="none" stroke="#2b2b2d" stroke-width="0.8"/>
<path d="M420.4,506.3 L421.5,507.5 L422.6,506.3" fill="none" stroke="#2b2b2d" stroke-width="0.6" stroke-linejoin="round" />
<rect x="418.20" y="509.90" width="6.60" height="19.60" rx="0" fill="#fff" stroke="#2b2b2d" stroke-width="0.5"/>
<line x1="418.70" y1="509.90" x2="418.70" y2="529.50" stroke="#2b2b2d" stroke-width="1.2" />
<line x1="424.30" y1="509.90" x2="424.30" y2="529.50" stroke="#2b2b2d" stroke-width="1.2" />
<line x1="421.50" y1="504.00" x2="421.50" y2="530.00" stroke="#8e8f91" stroke-width="0.55" stroke-dasharray="2.4 1.1 0.8 1.1"/>
<rect x="431.40" y="506.30" width="10.50" height="3.60" rx="0" fill="none" stroke="#2b2b2d" stroke-width="0.8"/>
<path d="M435.6,506.3 L436.7,507.5 L437.8,506.3" fill="none" stroke="#2b2b2d" stroke-width="0.6" stroke-linejoin="round" />
<rect x="433.40" y="509.90" width="6.50" height="10.00" rx="0" fill="none" stroke="#2b2b2d" stroke-width="0.7"/>
<rect x="433.40" y="521.20" width="6.50" height="3.10" rx="0" fill="none" stroke="#2b2b2d" stroke-width="0.7"/>
<line x1="436.70" y1="504.00" x2="436.70" y2="526.00" stroke="#8e8f91" stroke-width="0.55" stroke-dasharray="2.4 1.1 0.8 1.1"/>
<path d="M412.5,519.4 H428.3 V521.9 H414.7 V528.6 Q414.7,530 416.4,530 H428.9 V533.6 H416 Q412.5,533.6 412.5,530 Z" fill="#a9aaac" stroke="#2b2b2d" stroke-width="0.7" stroke-linejoin="round" />
<rect x="418.20" y="521.90" width="6.60" height="7.60" rx="0" fill="#fff" stroke="#2b2b2d" stroke-width="0.5"/>
<line x1="418.70" y1="521.90" x2="418.70" y2="529.50" stroke="#2b2b2d" stroke-width="1.2" />
<line x1="424.30" y1="521.90" x2="424.30" y2="529.50" stroke="#2b2b2d" stroke-width="1.2" />
<line x1="416.50" y1="531.80" x2="428.90" y2="531.80" stroke="#3a3a3c" stroke-width="1.4" />
<line x1="418.20" y1="529.20" x2="424.80" y2="529.20" stroke="#3a3a3c" stroke-width="1.2" />
<path d="M413.7,508.4 L412.6,519.2 M415.0,508.8 L414.2,519.2 M413.4,508.2 L415.2,508.8" fill="none" stroke="#2b2b2d" stroke-width="0.6" stroke-linejoin="round" />
<path d="M444.2,507.6 Q443.2,516 444.9,523.9 M444.2,507.6 Q446.6,515 445.6,523.9" fill="none" stroke="#2b2b2d" stroke-width="0.6" stroke-linejoin="round" />
<line x1="429.30" y1="505.00" x2="429.30" y2="546.00" stroke="#8e8f91" stroke-width="0.55" stroke-dasharray="2.4 1.1 0.8 1.1"/>
<line x1="391.00" y1="519.20" x2="413.00" y2="519.20" stroke="#3a3a3c" stroke-width="0.5" />
<line x1="391.00" y1="549.90" x2="421.00" y2="549.90" stroke="#3a3a3c" stroke-width="0.5" />
<line x1="391.70" y1="519.20" x2="391.70" y2="549.90" stroke="#3a3a3c" stroke-width="0.5" />
<path d="M391.70,519.20 L392.85,522.70 L390.55,522.70 Z" fill="#3a3a3c"/>
<path d="M391.70,549.90 L390.55,546.40 L392.85,546.40 Z" fill="#3a3a3c"/>
<text transform="translate(390.30,533.60) rotate(-90)" text-anchor="middle" fill="#2f2f31" font-size="7.8">D</text>
<line x1="401.00" y1="534.60" x2="419.00" y2="534.60" stroke="#3a3a3c" stroke-width="0.5" />
<line x1="401.00" y1="543.60" x2="419.00" y2="543.60" stroke="#3a3a3c" stroke-width="0.5" />
<line x1="402.20" y1="534.60" x2="402.20" y2="543.60" stroke="#3a3a3c" stroke-width="0.5" />
<path d="M402.20,534.60 L403.35,538.10 L401.05,538.10 Z" fill="#3a3a3c"/>
<path d="M402.20,543.60 L401.05,540.10 L403.35,540.10 Z" fill="#3a3a3c"/>
<text transform="translate(401.20,539.20) rotate(-90)" text-anchor="middle" fill="#2f2f31" font-size="7.4">C</text>
<line x1="421.70" y1="549.90" x2="421.70" y2="560.00" stroke="#3a3a3c" stroke-width="0.5" />
<line x1="437.50" y1="549.90" x2="437.50" y2="560.00" stroke="#3a3a3c" stroke-width="0.5" />
<line x1="421.70" y1="558.40" x2="437.50" y2="558.40" stroke="#3a3a3c" stroke-width="0.55" />
<path d="M421.70,558.40 L425.20,557.25 L425.20,559.55 Z" fill="#3a3a3c"/>
<path d="M437.50,558.40 L434.00,559.55 L434.00,557.25 Z" fill="#3a3a3c"/>
<text x="429.20" y="556.40" text-anchor="middle" fill="#2f2f31" font-size="7.2">B</text>
<line x1="409.70" y1="546.00" x2="409.70" y2="567.00" stroke="#3a3a3c" stroke-width="0.5" />
<line x1="449.00" y1="546.00" x2="449.00" y2="567.00" stroke="#3a3a3c" stroke-width="0.5" />
<line x1="409.70" y1="565.00" x2="449.00" y2="565.00" stroke="#3a3a3c" stroke-width="0.55" />
<path d="M409.70,565.00 L413.20,563.85 L413.20,566.15 Z" fill="#3a3a3c"/>
<path d="M449.00,565.00 L445.50,566.15 L445.50,563.85 Z" fill="#3a3a3c"/>
<text x="429.20" y="564.60" text-anchor="middle" fill="#2f2f31" font-size="7.4">A</text>
<rect x="466.30" y="506.10" width="10.40" height="3.90" rx="0" fill="none" stroke="#2b2b2d" stroke-width="0.8"/>
<path d="M470.2,506.1 L471.5,507.6 L472.8,506.1" fill="none" stroke="#2b2b2d" stroke-width="0.6" stroke-linejoin="round" />
<line x1="466.80" y1="510.00" x2="466.80" y2="531.50" stroke="#5a5b5d" stroke-width="0.6" />
<line x1="476.60" y1="510.00" x2="476.60" y2="531.50" stroke="#5a5b5d" stroke-width="0.6" />
<line x1="468.80" y1="510.00" x2="468.80" y2="531.50" stroke="#2b2b2d" stroke-width="1.1" />
<line x1="474.40" y1="510.00" x2="474.40" y2="531.50" stroke="#2b2b2d" stroke-width="1.1" />
<line x1="470.40" y1="510.00" x2="470.40" y2="531.00" stroke="#5a5b5d" stroke-width="0.5" />
<line x1="472.90" y1="510.00" x2="472.90" y2="531.00" stroke="#5a5b5d" stroke-width="0.5" />
<rect x="470.40" y="518.00" width="2.50" height="5.50" rx="0" fill="#c4c5c7" stroke="#999" stroke-width="0.3"/>
<path d="M465.3,533.4 L468.8,531.6 L471.5,531.0 L474.4,531.6 L477.7,533.4" fill="none" stroke="#2b2b2d" stroke-width="0.9" stroke-linejoin="round" />
<line x1="471.50" y1="504.00" x2="471.50" y2="546.00" stroke="#8e8f91" stroke-width="0.55" stroke-dasharray="2.4 1.1 0.8 1.1"/>
<path d="M465.3,519.3 Q462.4,520.3 462.4,523.4 V550.9 H465.3 V546.3 M465.3,519.3 V521.5 Q463.8,522.6 463.8,524.5 V546.3 H465.3 M465.3,546.3 V533.4" fill="none" stroke="#5a5b5d" stroke-width="0.7" stroke-linejoin="round" />
<path d="M477.7,519.3 Q480.5,520.3 480.5,523.4 V550.9 H477.7 V546.3 M477.7,519.3 V521.5 Q479.1,522.6 479.1,524.5 V546.3 H477.7 M477.7,546.3 V533.4" fill="none" stroke="#5a5b5d" stroke-width="0.7" stroke-linejoin="round" />
<line x1="466.00" y1="522.00" x2="466.00" y2="532.50" stroke="#a1a2a4" stroke-width="0.9" />
<line x1="477.00" y1="522.00" x2="477.00" y2="532.50" stroke="#a1a2a4" stroke-width="0.9" />
<line x1="462.40" y1="550.90" x2="462.40" y2="560.50" stroke="#3a3a3c" stroke-width="0.5" />
<line x1="480.50" y1="550.90" x2="480.50" y2="560.50" stroke="#3a3a3c" stroke-width="0.5" />
<line x1="462.40" y1="558.90" x2="480.50" y2="558.90" stroke="#3a3a3c" stroke-width="0.55" />
<path d="M462.40,558.90 L465.90,557.75 L465.90,560.05 Z" fill="#3a3a3c"/>
<path d="M480.50,558.90 L477.00,560.05 L477.00,557.75 Z" fill="#3a3a3c"/>
<text x="471.70" y="557.20" text-anchor="middle" fill="#2f2f31" font-size="7.4">E</text>
</svg></body></html>
